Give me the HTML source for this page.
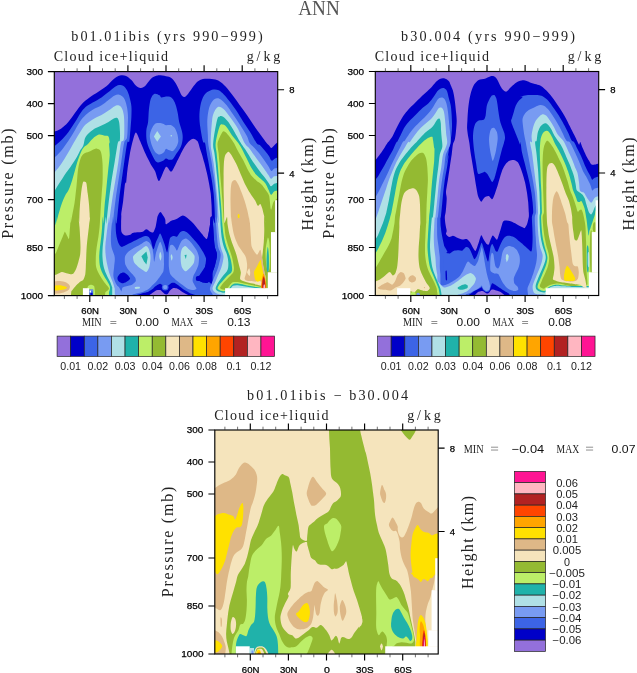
<!DOCTYPE html>
<html><head><meta charset="utf-8"><title>ANN</title>
<style>
html,body{margin:0;padding:0;background:#fff;}
body{width:637px;height:673px;overflow:hidden;}
svg{display:block;will-change:transform}
text{font-family:"Liberation Sans",sans-serif;fill:#000}
.sf{font-family:"Liberation Serif",serif;fill:#222}
.tk{font-size:9.6px;fill:#000;stroke:#000;stroke-width:0.25px}
.cb{font-size:10.8px;fill:#222}
.nm{font-size:11.6px;fill:#111}
</style></head><body>
<svg width="637" height="673" viewBox="0 0 637 673">
<rect width="637" height="673" fill="#fff"/>
<text class="sf" x="319" y="15" font-size="21" text-anchor="middle" textLength="41.5" lengthAdjust="spacingAndGlyphs" style="fill:#555">ANN</text>
<clipPath id="c1"><rect x="54.3" y="71.6" width="223.4" height="224.0"/></clipPath>
<g clip-path="url(#c1)">
<rect x="54.3" y="71.6" width="223.4" height="224.0" fill="#9370DB"/>
<path fill="#0000C8" d="M52.2,132.5L54.0,131.7C55.2,131.2 58.7,130.2 61.0,128.7C63.4,127.1 65.7,125.0 68.1,122.3C70.4,119.7 72.8,116.0 75.1,112.8C77.4,109.7 79.8,106.2 82.1,103.7C84.5,101.2 86.5,99.7 89.2,97.7C91.8,95.8 95.0,94.0 98.0,92.1C100.9,90.2 104.1,88.3 106.7,86.1C109.4,84.0 111.6,80.8 113.8,79.1C116.0,77.3 117.9,76.1 119.9,75.6C122.0,75.0 124.2,75.2 126.1,75.9C128.0,76.7 129.8,78.6 131.4,80.1C133.0,81.7 134.2,84.1 135.8,85.4C137.3,86.7 139.0,87.7 140.5,87.9C142.0,88.1 143.1,87.6 144.5,86.5C146.0,85.4 147.6,82.7 148.9,81.2C150.3,79.7 151.3,78.3 152.8,77.3C154.3,76.4 155.5,75.6 157.7,75.4C159.9,75.2 163.7,75.8 166.0,76.3C168.3,76.7 169.7,76.9 171.3,78.0C172.9,79.2 174.4,81.3 175.7,83.3C177.0,85.4 178.2,88.3 179.2,90.3C180.2,92.4 180.9,94.5 181.8,95.6C182.7,96.7 183.4,97.3 184.5,97.0C185.5,96.7 186.7,95.4 188.0,93.9C189.3,92.3 190.8,89.8 192.4,87.7C194.0,85.7 195.9,83.0 197.6,81.5C199.4,80.1 200.6,79.4 202.9,78.9C205.3,78.5 209.1,78.6 211.7,78.9C214.4,79.2 216.4,79.4 218.7,80.7C221.1,82.0 223.4,84.3 225.8,86.8C228.1,89.3 230.5,92.5 232.8,95.6C235.2,98.7 237.5,102.1 239.8,105.3C242.2,108.5 244.5,111.6 246.9,115.0C249.2,118.3 251.6,122.1 253.9,125.5C256.3,128.9 258.8,132.3 260.9,135.2C263.1,138.1 265.2,141.3 266.6,143.0C267.9,144.7 268.3,144.7 269.1,145.5C269.9,146.3 270.5,148.0 271.3,148.0C272.2,148.0 273.2,146.3 274.1,145.5C275.0,144.7 276.2,143.4 276.6,143.0L282.9,139.2L282.7,300.6L49.3,300.6L52.2,132.5Z"/>
<path fill="#9370DB" d="M126.1,183.0C126.4,181.2 127.0,173.1 127.5,169.5C128.0,165.8 129.0,158.9 129.6,155.4C130.2,151.9 131.4,146.1 132.2,143.1C133.1,140.0 134.7,132.8 135.8,132.5C136.8,132.3 138.9,138.5 140.2,141.3C141.4,144.1 144.0,150.6 145.4,153.6C146.8,156.7 149.4,161.8 150.7,164.2C152.0,166.5 154.0,169.0 155.1,171.2C156.2,173.4 157.7,181.5 159.1,180.9C160.6,180.3 164.4,168.1 166.0,166.8C167.6,165.6 169.9,172.2 171.3,171.6C172.7,171.0 174.9,165.5 176.5,162.4C178.2,159.3 181.9,151.2 183.6,148.4C185.2,145.5 187.6,142.6 188.9,141.3C190.1,140.0 192.1,138.7 193.3,138.7C194.4,138.7 196.7,140.0 197.6,141.3C198.5,142.7 199.4,146.9 200.0,148.7C200.6,150.4 201.3,152.4 201.9,154.3C202.5,156.2 203.7,160.6 204.4,163.1C205.1,165.6 206.3,170.5 206.9,173.1C207.5,175.8 208.5,180.5 209.0,183.2C209.5,185.9 210.3,190.2 210.7,193.2C211.0,196.2 211.4,202.4 211.6,205.8C211.7,209.1 212.0,216.9 211.9,218.4C211.8,219.8 210.9,216.2 210.7,217.0C210.4,217.8 210.3,222.5 210.0,224.5C209.8,226.5 209.2,230.1 208.8,232.1C208.4,234.0 207.5,238.3 206.9,239.0C206.3,239.6 205.0,237.8 204.4,237.1C203.7,236.4 202.9,235.1 202.0,234.0C201.1,232.9 198.9,230.2 197.6,228.7C196.4,227.2 193.8,224.0 192.4,222.6C191.0,221.1 188.4,218.8 187.1,217.8C185.8,216.9 184.1,215.4 182.7,215.5C181.3,215.7 178.1,218.3 176.5,219.0C175.0,219.7 172.7,220.1 171.3,220.8C169.9,221.5 166.8,224.5 166.0,224.3C165.2,224.2 165.6,220.8 165.3,219.8C165.0,218.7 164.4,217.7 163.8,216.6C163.1,215.6 161.2,212.1 160.4,212.0C159.6,211.9 158.2,214.8 157.7,216.0C157.2,217.2 157.0,219.5 156.7,221.0C156.4,222.5 155.9,225.8 155.5,227.3C155.0,228.8 154.0,231.7 153.3,232.3C152.6,232.9 151.1,232.1 150.2,231.7C149.3,231.3 147.4,229.2 146.4,229.2C145.4,229.2 143.9,231.3 142.7,231.7C141.4,232.1 138.3,232.2 137.0,232.3C135.7,232.5 133.5,232.6 132.6,233.0C131.7,233.3 131.1,234.5 130.1,234.8C129.1,235.2 126.2,235.8 125.1,235.5C123.9,235.1 122.1,233.9 121.6,232.3C121.0,230.7 121.1,225.7 121.1,223.5C121.0,221.4 121.3,217.4 121.3,216.0C121.3,214.6 121.1,215.4 121.3,213.3C121.6,211.3 122.7,204.6 123.2,200.5C123.7,196.5 124.7,185.3 125.1,182.9C125.5,180.6 125.8,184.8 126.1,183.0Z"/>
<path fill="#3C64E6" d="M52.2,147.5L54.0,146.6C55.2,145.6 58.7,142.8 61.0,140.5C63.4,138.1 65.7,135.6 68.1,132.5C70.4,129.5 73.0,125.2 75.1,122.0C77.2,118.8 78.6,115.7 80.4,113.2C82.1,110.7 83.6,108.8 85.6,107.0C87.7,105.3 90.0,104.3 92.7,102.6C95.3,101.0 98.8,99.1 101.5,97.4C104.1,95.6 106.5,93.7 108.5,92.1C110.6,90.5 112.0,88.9 113.8,87.7C115.5,86.5 117.4,85.4 119.1,85.1C120.7,84.8 122.1,85.1 123.5,85.9C124.8,86.8 125.9,88.4 127.0,90.3C128.0,92.2 128.9,94.7 129.6,97.4C130.3,100.0 131.1,102.9 131.4,106.2C131.7,109.4 131.5,112.9 131.4,116.7C131.2,120.5 130.8,124.9 130.5,129.0C130.1,133.1 129.8,139.0 129.3,141.3C128.7,143.7 128.1,139.6 127.2,143.0C126.4,146.4 125.3,155.6 124.3,161.8C123.4,168.1 122.5,174.4 121.6,180.7C120.7,187.0 119.9,192.5 119.1,199.5C118.2,206.6 117.2,220.1 116.6,223.0C115.9,225.9 115.6,216.3 115.3,217.0C115.1,217.7 115.1,223.7 115.1,227.0C115.1,230.4 114.8,234.4 115.3,237.1C115.8,239.8 117.0,240.4 117.8,243.4C118.7,246.3 119.9,252.8 120.3,254.7L120.3,312.4L48.7,312.4L52.2,147.5Z"/>
<path fill="#3C64E6" d="M214.8,223.0C215.1,221.1 214.7,210.8 214.4,205.8C214.2,200.8 214.0,197.4 213.6,193.2C213.1,189.0 212.5,184.4 211.9,180.7C211.3,176.9 210.7,174.0 210.0,170.6C209.4,167.3 208.8,163.9 208.2,160.6C207.5,157.2 206.8,153.5 206.3,150.5C205.8,147.6 205.6,144.5 205.0,143.0C204.5,141.5 203.7,144.0 202.9,141.3C202.1,138.7 200.9,131.4 200.3,127.3C199.7,123.2 199.4,120.2 199.4,116.7C199.4,113.2 199.7,109.4 200.3,106.2C200.9,102.9 201.8,99.7 202.9,97.4C204.1,95.0 205.6,93.4 207.3,92.1C209.1,90.8 211.6,89.8 213.5,89.5C215.4,89.2 217.0,89.5 218.7,90.3C220.5,91.2 222.3,93.0 224.0,94.7C225.8,96.5 227.2,98.3 229.3,100.9C231.3,103.5 234.0,107.0 236.3,110.6C238.7,114.1 241.0,118.3 243.4,122.0C245.7,125.7 248.2,129.0 250.4,132.5C252.6,136.0 254.9,140.8 256.5,143.0C258.2,145.2 258.8,144.2 260.3,145.5C261.7,146.9 263.8,149.4 265.3,151.2C266.8,152.9 268.0,154.6 269.1,156.2C270.1,157.8 270.6,160.2 271.6,160.6C272.5,161.0 273.7,159.2 274.7,158.7C275.7,158.2 277.1,158.0 277.6,157.8L282.9,157.4L282.9,312.4L212.6,312.4L212.6,272.3C213.0,271.0 214.3,267.7 215.1,264.7C215.8,261.8 217.0,257.6 217.0,254.7C216.9,251.7 215.3,250.1 214.8,247.1C214.3,244.2 214.1,240.4 213.8,237.1C213.5,233.7 213.4,230.4 213.2,227.0C213.0,223.7 212.3,217.7 212.6,217.0C212.8,216.3 214.5,224.9 214.8,223.0Z"/>
<path fill="#3C64E6" d="M116.0,216.0C116.0,217.3 115.6,223.5 115.7,226.0C115.7,228.6 115.9,232.7 116.3,234.8C116.6,237.0 117.5,240.8 118.2,242.4C118.8,244.0 120.4,246.4 121.3,246.8C122.2,247.2 123.9,246.0 125.1,245.5C126.2,245.0 128.8,243.7 130.1,243.0C131.4,242.3 133.8,241.2 135.1,240.5C136.5,239.8 138.8,238.6 140.1,238.0C141.5,237.4 144.1,236.3 145.2,236.1C146.3,235.9 147.6,236.1 148.3,236.7C149.1,237.3 150.1,238.8 150.8,240.5C151.5,242.2 152.7,249.0 153.3,249.3C154.0,249.5 155.2,244.0 155.8,242.4C156.5,240.7 157.8,237.9 158.4,236.7C158.9,235.5 159.7,233.5 160.2,233.6C160.7,233.7 161.5,235.9 162.1,237.4C162.7,238.8 164.0,242.2 164.6,244.3C165.3,246.3 166.6,252.5 167.1,252.4C167.7,252.3 168.4,245.6 168.8,243.6C169.2,241.7 169.5,239.0 170.1,238.0C170.7,237.0 172.3,236.3 173.2,236.1C174.2,235.9 176.1,237.2 177.0,236.7C177.9,236.2 179.2,233.1 180.1,232.3C181.1,231.6 182.9,231.0 183.9,231.1C184.9,231.2 186.7,232.2 187.7,233.0C188.7,233.7 190.4,235.6 191.4,236.7C192.4,237.8 194.0,239.7 195.2,241.1C196.4,242.5 199.1,245.7 200.2,247.4C201.4,249.1 203.2,252.0 204.0,253.7C204.8,255.4 206.3,258.3 206.5,260.0C206.7,261.6 205.8,264.7 205.3,266.2C204.7,267.7 203.0,269.9 202.1,271.3C201.3,272.6 199.5,275.1 199.0,276.3C198.5,277.5 197.8,279.2 198.4,280.1C198.9,280.9 201.3,282.3 202.7,282.6C204.2,282.8 207.7,281.4 209.0,281.9C210.4,282.4 212.3,285.7 212.8,286.3L215.3,311.4L59.8,311.4L116.0,216.0Z"/>
<path fill="#3C64E6" d="M166.0,96.5C165.2,96.6 162.3,97.6 161.3,97.4C160.2,97.2 160.7,95.8 159.5,95.3C158.3,94.7 155.7,93.2 154.2,93.9C152.8,94.5 151.6,96.5 150.7,99.1C149.8,101.8 149.4,105.9 148.9,109.7C148.5,113.5 148.5,118.5 148.1,122.0C147.6,125.5 146.5,127.6 146.3,130.8C146.1,134.0 146.2,138.1 146.8,141.3C147.4,144.6 148.6,147.2 149.8,150.1C151.1,153.1 152.9,156.9 154.2,158.9C155.5,161.0 156.3,162.1 157.7,162.4C159.2,162.7 161.6,161.3 163.0,160.7C164.4,160.0 164.9,158.5 166.0,158.4C167.1,158.2 168.3,159.7 169.5,159.8C170.7,159.9 171.9,159.9 173.0,158.9C174.2,157.9 175.2,155.7 176.5,153.6C177.9,151.6 179.9,149.2 180.9,146.6C182.0,144.0 182.6,140.5 182.7,137.8C182.8,135.2 182.4,133.4 181.8,130.8C181.2,128.1 179.9,125.2 179.2,122.0C178.5,118.8 178.2,114.7 177.4,111.4C176.7,108.2 175.8,105.0 174.8,102.6C173.8,100.3 172.7,98.4 171.3,97.4C169.8,96.3 166.9,96.6 166.0,96.5C165.1,96.3 166.8,96.3 166.0,96.5Z"/>
<path fill="#0000C8" d="M206.3,257.2C206.1,259.5 205.6,265.1 205.0,267.2C204.4,269.4 202.6,272.4 201.9,273.5C201.2,274.6 200.8,275.0 200.0,275.4C199.2,275.8 196.7,276.0 196.2,276.7C195.7,277.3 195.7,279.8 196.2,280.4C196.7,281.0 199.2,280.8 200.0,281.1C200.8,281.3 201.5,282.1 202.5,282.3C203.5,282.6 206.5,283.3 207.5,282.9C208.5,282.6 209.4,281.2 210.0,279.8C210.7,278.4 211.9,274.3 212.6,272.3C213.2,270.2 214.5,267.1 215.1,264.7C215.7,262.4 217.0,257.0 217.0,254.7C216.9,252.3 215.2,249.5 214.8,247.1C214.4,244.8 214.0,239.8 213.8,237.1C213.6,234.4 213.4,229.7 213.2,227.0C213.0,224.4 212.9,218.3 212.6,217.0C212.2,215.7 211.0,216.0 210.7,217.0C210.3,218.0 210.3,222.5 210.0,224.5C209.8,226.5 209.1,229.7 208.8,232.1C208.5,234.4 207.9,239.8 207.5,242.1C207.2,244.5 206.4,247.6 206.3,249.7C206.1,251.7 206.4,254.8 206.3,257.2Z"/>
<path fill="#0000C8" d="M117.5,277.5C117.8,276.6 119.2,274.4 120.0,273.8C120.9,273.1 122.8,272.3 123.8,272.5C124.8,272.7 126.7,274.2 127.6,275.0C128.4,275.9 130.3,277.9 130.1,278.8C129.9,279.7 127.4,281.3 126.3,281.9C125.2,282.5 123.0,283.4 121.9,283.2C120.8,283.0 118.7,281.4 118.2,280.7C117.6,279.9 117.3,278.5 117.5,277.5Z"/>
<path fill="#0000C8" d="M133.8,297.1C126.7,296.9 135.0,295.9 135.7,295.6C136.3,295.2 138.4,294.6 139.4,294.3C140.4,293.9 143.0,293.2 144.1,292.8C145.2,292.5 147.8,291.9 148.8,291.4C149.8,291.0 151.8,289.7 152.6,289.1C153.4,288.5 154.8,286.8 155.4,286.3C156.1,285.7 157.7,284.7 158.3,284.4C158.8,284.1 159.9,283.7 160.3,283.7C160.8,283.8 161.4,284.5 162.0,284.8C162.6,285.1 164.6,286.2 165.3,286.3C166.1,286.3 167.9,285.7 168.6,285.3C169.3,284.9 170.8,283.3 171.4,283.0C172.1,282.7 173.6,282.6 174.3,282.8C174.9,282.9 176.3,283.9 177.1,284.4C177.9,284.9 180.0,286.5 180.9,287.2C181.7,287.9 183.6,289.3 184.6,290.0C185.7,290.7 188.7,292.5 190.0,293.3C191.3,294.1 202.5,296.6 195.9,297.1C189.4,297.5 140.8,297.3 133.8,297.1Z"/>
<path fill="#9370DB" d="M147.9,297.1C143.1,296.9 148.3,296.1 148.8,295.6C149.4,295.1 151.7,293.5 152.6,292.8C153.5,292.2 155.5,290.6 156.4,290.3C157.3,290.0 159.4,289.8 160.1,290.0C160.9,290.2 161.9,291.4 162.5,291.9C163.1,292.4 164.7,294.0 165.3,294.3C165.9,294.5 167.2,294.5 167.7,294.1C168.2,293.7 168.9,291.7 169.6,291.0C170.2,290.3 172.4,288.4 173.3,288.1C174.2,287.9 176.2,288.3 177.1,288.6C178.0,288.9 180.0,290.4 180.9,291.0C181.7,291.5 183.8,292.8 184.6,293.3C185.5,293.8 187.7,294.8 188.4,295.2C189.1,295.6 195.0,296.9 190.3,297.1C185.6,297.3 152.7,297.3 147.9,297.1Z"/>
<circle cx="165.2" cy="287.3" r="3.3" fill="#3C64E6"/>
<circle cx="165.2" cy="287.1" r="2.2" fill="#789BF2"/>
<path fill="#789BF2" d="M52.2,158.9L54.0,158.0C55.2,156.9 58.7,153.8 61.0,151.0C63.4,148.2 65.7,144.8 68.1,141.3C70.4,137.8 73.0,133.3 75.1,129.9C77.2,126.5 78.6,123.6 80.4,121.1C82.1,118.6 83.6,116.9 85.6,115.0C87.7,113.1 90.0,111.3 92.7,109.7C95.3,108.1 98.8,106.9 101.5,105.3C104.1,103.7 106.3,101.6 108.5,100.0C110.7,98.4 112.9,96.5 114.7,95.6C116.4,94.7 117.6,94.4 119.1,94.7C120.5,95.0 122.3,95.9 123.5,97.4C124.6,98.8 125.4,100.9 126.1,103.5C126.8,106.2 127.6,109.8 127.8,113.2C128.1,116.6 128.0,119.6 127.8,123.7C127.7,127.8 127.6,134.6 127.0,137.8C126.3,141.0 125.0,139.0 124.1,143.0C123.2,147.0 122.3,155.6 121.3,161.8C120.4,168.1 119.4,174.4 118.4,180.7C117.5,187.0 116.5,192.5 115.6,199.5C114.6,206.6 113.3,220.1 112.8,223.0C112.3,225.9 113.0,216.3 112.8,217.0C112.6,217.7 111.9,223.7 111.5,227.0C111.2,230.4 110.9,233.7 110.9,237.1C110.9,240.4 110.9,243.8 111.5,247.1C112.2,250.5 114.3,253.8 114.7,257.2C115.1,260.5 114.3,264.1 114.1,267.2C113.8,270.4 113.2,273.5 113.4,276.0C113.6,278.5 114.5,280.4 115.3,282.3C116.1,284.2 117.5,285.9 118.4,287.3C119.4,288.8 120.5,290.5 121.0,291.1L121.6,312.4L48.7,312.4L52.2,158.9Z"/>
<path fill="#789BF2" d="M217.0,223.0C217.1,221.1 216.8,210.8 216.6,205.8C216.4,200.8 216.1,197.4 215.7,193.2C215.3,189.0 214.9,184.4 214.4,180.7C214.0,176.9 213.3,174.0 212.8,170.6C212.3,167.3 211.9,163.9 211.3,160.6C210.7,157.2 209.9,153.5 209.4,150.5C208.9,147.6 208.4,145.7 208.2,143.0C207.9,140.3 208.0,138.1 207.8,134.3C207.7,130.5 207.1,124.6 207.3,120.2C207.5,115.8 208.2,111.1 209.1,107.9C210.0,104.7 211.3,102.5 212.6,100.9C213.9,99.3 215.5,98.4 217.0,98.3C218.5,98.1 219.8,98.8 221.4,100.0C223.0,101.2 224.8,102.9 226.7,105.3C228.6,107.6 230.6,110.9 232.8,114.1C235.0,117.3 237.5,121.0 239.8,124.6C242.2,128.3 245.3,133.0 246.9,136.1C248.5,139.1 248.4,141.1 249.6,143.0C250.8,144.9 252.4,145.7 254.0,147.4C255.6,149.1 257.4,151.0 259.0,153.0C260.7,155.1 262.5,157.8 264.1,160.0C265.6,162.2 267.2,164.4 268.4,166.2C269.7,168.1 270.4,170.5 271.3,170.9C272.3,171.3 273.1,169.2 274.1,168.7C275.1,168.3 277.0,168.2 277.6,168.1L282.9,167.9L282.9,312.4L213.8,312.4L212.6,294.2C212.1,293.5 210.4,291.2 210.0,289.8C209.7,288.5 210.2,287.7 210.7,286.1C211.2,284.4 212.2,282.1 213.2,279.8C214.1,277.5 215.4,274.8 216.3,272.3C217.3,269.7 218.1,267.7 218.8,264.7C219.6,261.8 220.8,257.6 220.7,254.7C220.6,251.7 218.8,250.1 218.2,247.1C217.6,244.2 217.3,240.4 217.0,237.1C216.6,233.7 216.5,230.4 216.3,227.0C216.1,223.7 215.6,217.7 215.7,217.0C215.8,216.3 216.8,224.9 217.0,223.0Z"/>
<path fill="#789BF2" d="M125.1,256.2C125.4,255.3 126.7,253.3 127.6,252.4C128.5,251.5 131.4,249.4 132.6,248.7C133.8,247.9 136.5,246.8 137.6,246.1C138.8,245.5 141.6,243.6 142.7,243.0C143.7,242.4 145.6,241.1 146.4,241.1C147.2,241.1 148.9,242.3 149.6,243.0C150.2,243.7 151.6,246.2 152.1,247.4C152.5,248.6 153.1,252.0 153.3,253.7C153.6,255.4 153.9,261.8 154.2,261.8C154.5,261.8 155.4,255.6 155.8,253.7C156.3,251.8 157.8,246.9 158.4,245.5C158.9,244.1 159.8,241.7 160.2,241.7C160.7,241.8 161.7,244.7 162.1,246.1C162.5,247.5 163.5,251.6 163.8,253.7C164.0,255.7 164.0,261.7 164.0,263.7C164.0,265.8 163.8,269.8 163.4,271.3C162.9,272.7 161.0,275.1 160.2,276.3C159.4,277.5 157.3,280.3 156.5,281.3C155.6,282.3 153.6,284.2 152.7,285.1C151.8,286.0 150.0,288.1 148.9,288.8C147.9,289.6 145.2,290.8 143.9,291.4C142.6,291.9 138.9,292.9 137.6,293.2C136.3,293.6 133.2,294.3 132.6,294.5L128.8,311.4L116.3,311.4L114.4,291.4C114.5,290.8 115.1,286.8 115.7,286.3C116.2,285.8 118.1,286.4 118.8,287.0C119.5,287.5 120.9,291.3 121.3,291.4C121.7,291.4 122.0,288.2 122.6,287.6C123.1,287.0 125.2,286.7 126.3,286.3C127.4,286.0 130.9,285.4 132.0,284.8C133.1,284.2 135.4,282.2 135.7,281.3C136.1,280.5 135.6,278.4 135.1,277.5C134.7,276.7 132.8,274.7 132.0,273.8C131.2,272.8 129.0,270.5 128.2,269.4C127.4,268.3 125.7,265.5 125.3,264.4C124.9,263.3 124.8,260.9 124.8,260.0C124.8,259.0 124.7,257.1 125.1,256.2Z"/>
<path fill="#789BF2" d="M168.8,257.4C168.9,255.4 168.9,252.8 169.1,251.2C169.3,249.6 169.6,246.4 170.1,245.5C170.6,244.7 171.9,244.6 172.6,244.9C173.3,245.1 174.5,246.6 175.1,247.4C175.7,248.2 176.4,250.9 177.0,250.5C177.6,250.2 178.8,246.2 179.5,244.9C180.2,243.5 181.2,241.3 182.0,240.5C182.9,239.7 184.8,238.5 185.8,238.6C186.8,238.7 188.6,240.2 189.6,241.1C190.6,242.0 192.3,244.2 193.3,245.5C194.3,246.9 196.3,249.6 197.1,251.2C197.8,252.8 198.8,255.6 199.0,257.4C199.1,259.3 198.8,263.1 198.4,265.0C197.9,266.8 196.5,269.8 195.8,271.3C195.2,272.8 193.7,274.9 193.3,276.3C192.9,277.6 192.4,280.0 192.7,281.3C193.0,282.6 194.7,285.3 195.2,286.3C195.7,287.3 196.7,288.3 196.5,288.8C196.2,289.3 194.5,290.1 193.3,290.1C192.2,290.1 189.1,289.5 187.7,288.8C186.3,288.2 184.0,286.1 182.7,285.1C181.3,284.1 178.9,282.3 177.6,281.3C176.4,280.3 174.2,278.5 173.2,277.5C172.2,276.5 170.7,275.3 170.1,273.8C169.5,272.3 169.0,268.4 168.8,266.2C168.7,264.1 168.8,259.5 168.8,257.4Z"/>
<path fill="#789BF2" d="M155.1,123.7C154.0,124.5 152.3,127.4 151.6,129.0C150.9,130.7 149.8,133.9 149.8,136.1C149.8,138.2 150.9,142.7 151.6,144.8C152.3,147.0 154.0,150.6 155.1,151.9C156.2,153.2 158.3,154.5 159.5,154.5C160.7,154.6 163.0,153.0 163.9,152.2C164.8,151.5 165.4,149.0 166.0,148.7C166.6,148.4 167.7,149.8 168.6,150.1C169.6,150.4 172.0,151.5 173.0,151.0C174.1,150.5 175.8,147.9 176.5,146.6C177.3,145.3 178.2,143.0 178.3,141.3C178.4,139.7 177.9,136.1 177.4,134.3C177.0,132.5 175.6,129.4 174.8,128.1C174.0,126.9 172.4,125.6 171.3,125.2C170.1,124.8 167.1,125.3 166.0,125.2C164.9,125.0 163.9,124.0 163.0,123.7C162.1,123.5 160.5,123.0 159.5,123.0C158.4,123.0 156.2,123.0 155.1,123.7Z"/>
<path fill="#B0E0E6" d="M157.2,131.1L160.9,136.4L157.2,141.7L153.9,136.4Z"/>
<circle cx="171.3" cy="135.7" r="0.8" fill="#B0E0E6"/>
<path fill="#B0E0E6" d="M52.2,173.9L54.0,173.0C55.2,171.5 58.7,167.6 61.0,164.2C63.4,160.8 65.7,156.7 68.1,152.8C70.4,148.8 73.0,144.0 75.1,140.5C77.2,136.9 78.6,134.3 80.4,131.7C82.1,129.0 83.6,126.7 85.6,124.6C87.7,122.6 90.0,121.0 92.7,119.4C95.3,117.7 98.8,116.4 101.5,115.0C104.1,113.5 106.3,112.0 108.5,110.6C110.7,109.1 113.0,107.0 114.7,106.2C116.3,105.3 117.0,105.0 118.2,105.3C119.3,105.6 120.8,106.3 121.7,107.9C122.6,109.5 123.4,112.0 123.8,115.0C124.2,117.9 124.3,121.4 124.3,125.5C124.3,129.6 124.4,136.7 123.8,139.6C123.2,142.5 121.9,139.3 121.0,143.0C120.1,146.7 119.4,155.6 118.4,161.8C117.5,168.1 116.4,174.4 115.3,180.7C114.3,187.0 113.2,192.5 112.2,199.5C111.1,206.6 109.5,220.1 109.0,223.0C108.5,225.9 109.3,216.3 109.0,217.0C108.8,217.7 108.0,223.7 107.5,227.0C107.1,230.4 106.6,233.7 106.3,237.1C105.9,240.4 105.3,243.8 105.3,247.1C105.2,250.5 105.5,253.8 105.9,257.2C106.3,260.5 107.0,264.1 107.8,267.2C108.5,270.4 109.4,273.5 110.3,276.0C111.1,278.5 112.1,280.2 112.8,282.3C113.5,284.4 114.4,287.5 114.7,288.6L115.3,312.4L48.7,312.4L52.2,173.9Z"/>
<path fill="#B0E0E6" d="M218.8,223.0C219.0,222.4 218.5,217.0 218.3,213.3C218.1,209.6 217.9,205.0 217.6,200.8C217.2,196.6 216.7,192.4 216.3,188.2C215.9,184.0 215.5,179.8 215.1,175.7C214.6,171.5 214.1,166.9 213.6,163.1C213.0,159.3 212.4,156.4 211.9,153.0C211.4,149.7 210.7,148.5 210.7,143.0C210.7,137.5 211.5,125.5 212.1,120.2C212.7,115.0 213.4,113.6 214.4,111.4C215.3,109.2 216.7,107.7 217.9,107.0C219.0,106.4 220.1,106.8 221.4,107.6C222.7,108.3 224.2,109.6 225.8,111.4C227.4,113.3 229.0,115.5 231.1,118.5C233.1,121.4 235.8,124.9 238.1,129.0C240.3,133.1 242.8,139.8 244.6,143.0C246.4,146.2 247.4,146.0 249.0,148.0C250.5,150.0 252.3,152.6 254.0,154.9C255.7,157.2 257.4,159.5 259.0,161.8C260.7,164.1 262.5,166.5 264.1,168.7C265.6,170.9 267.3,173.4 268.4,175.0C269.6,176.7 270.0,178.6 271.0,178.8C271.9,179.0 273.0,176.8 274.1,176.3C275.2,175.8 277.0,176.0 277.6,175.9L282.9,175.7L282.9,297.4L225.1,295.1C224.1,295.0 220.5,294.7 218.8,294.2C217.2,293.8 216.1,293.2 215.1,292.4C214.0,291.5 212.9,290.3 212.6,289.2C212.2,288.2 212.7,287.4 213.2,286.1C213.7,284.7 214.8,283.1 215.7,281.1C216.6,279.0 217.9,275.8 218.8,273.5C219.8,271.2 220.6,269.5 221.4,267.2C222.1,264.9 222.9,261.8 223.2,259.7C223.5,257.6 223.7,256.8 223.2,254.7C222.8,252.6 221.4,250.1 220.7,247.1C220.0,244.2 219.5,240.4 219.1,237.1C218.7,233.7 218.5,230.4 218.2,227.0C218.0,223.7 217.5,217.7 217.6,217.0C217.7,216.3 218.7,223.6 218.8,223.0Z"/>
<path fill="#B0E0E6" d="M133.2,256.2C133.7,255.4 135.3,254.0 136.4,253.0C137.5,252.1 140.1,250.2 141.4,249.3C142.7,248.4 144.9,246.3 145.8,246.1C146.7,246.0 147.7,247.0 148.3,248.0C148.9,249.0 149.9,252.1 150.2,253.7C150.5,255.3 150.6,258.1 150.4,260.0C150.3,261.8 149.7,265.9 149.2,267.5C148.6,269.1 147.3,271.6 146.4,271.9C145.5,272.2 143.8,270.8 142.7,270.0C141.5,269.2 138.7,267.2 137.6,266.2C136.5,265.3 135.1,264.0 134.5,263.1C133.9,262.2 133.4,260.2 133.2,259.3C133.1,258.4 132.8,257.0 133.2,256.2Z"/>
<path fill="#20B2AA" d="M141.4,256.2L146.4,251.4L147.7,257.4L146.4,264.4L143.9,261.2Z"/>
<path fill="#B0E0E6" d="M160.2,251.8C160.5,251.8 161.5,255.0 161.5,256.2C161.5,257.4 160.8,260.6 160.5,260.6C160.2,260.6 159.3,257.4 159.2,256.2C159.2,255.0 159.9,251.8 160.2,251.8Z"/>
<path fill="#B0E0E6" d="M180.8,253.7C180.9,252.0 181.4,249.7 182.0,248.7C182.6,247.6 184.3,246.1 185.2,246.1C186.0,246.1 187.4,247.8 188.3,248.7C189.2,249.5 191.2,251.4 192.1,252.4C192.9,253.4 194.3,254.8 194.6,256.2C194.8,257.5 194.4,261.1 194.0,262.5C193.5,263.8 192.3,265.2 191.4,266.2C190.6,267.2 188.5,269.3 187.7,270.0C186.8,270.7 185.9,271.6 185.2,271.3C184.4,270.9 182.6,268.8 182.0,267.5C181.4,266.2 180.9,263.1 180.8,261.2C180.6,259.4 180.6,255.4 180.8,253.7Z"/>
<path fill="#20B2AA" d="M184.5,254.9L186.7,254.7L185.8,259.3Z"/>
<path fill="#B0E0E6" d="M170.7,256.2C170.7,255.4 171.4,254.1 171.6,254.3C171.9,254.5 172.6,256.6 172.6,257.4C172.6,258.3 171.9,260.8 171.6,260.6C171.4,260.4 170.7,257.0 170.7,256.2Z"/>
<path fill="#B0E0E6" d="M135.1,287.1C135.6,286.9 139.1,286.7 139.5,286.8C140.0,287.0 140.0,288.4 139.5,288.6C139.1,288.8 135.6,289.0 135.1,288.8C134.7,288.7 134.7,287.3 135.1,287.1Z"/>
<path fill="#20B2AA" d="M48.7,195.7L54.3,191.4C54.7,190.6 56.0,188.4 56.9,187.0C57.8,185.6 58.5,184.4 59.4,182.9C60.4,181.5 61.4,179.9 62.6,178.2C63.7,176.4 65.1,174.3 66.3,172.5C67.6,170.7 68.8,169.3 70.1,167.5C71.4,165.7 72.7,163.6 73.9,161.8C75.0,160.1 76.0,158.7 77.0,156.8C78.0,154.9 79.1,152.4 80.1,150.5C81.2,148.7 82.4,147.8 83.3,145.5C84.2,143.2 84.1,139.5 85.6,136.9C87.2,134.3 90.0,131.8 92.7,129.9C95.3,128.0 98.8,126.8 101.5,125.5C104.1,124.2 106.5,123.2 108.5,122.0C110.6,120.8 112.3,119.1 113.8,118.5C115.2,117.8 116.4,117.5 117.3,118.1C118.2,118.7 118.6,119.9 119.1,122.0C119.5,124.1 119.8,127.7 119.9,130.8C120.1,133.9 120.1,138.4 119.8,140.5C119.4,142.5 118.7,139.4 117.8,143.0C117.0,146.6 115.7,155.6 114.7,161.8C113.6,168.1 112.5,174.4 111.5,180.7C110.6,187.0 109.9,192.5 109.0,199.5C108.1,206.6 106.8,220.1 106.3,223.0C105.7,225.9 106.2,216.3 105.9,217.0C105.6,217.7 105.0,223.7 104.6,227.0C104.3,230.4 104.1,233.7 103.8,237.1C103.4,240.4 103.0,243.8 102.7,247.1C102.5,250.5 102.3,253.8 102.5,257.2C102.7,260.5 103.0,264.1 103.8,267.2C104.5,270.4 106.1,273.5 107.1,276.0C108.2,278.5 109.4,280.4 110.3,282.3C111.1,284.2 111.9,286.5 112.2,287.3L112.2,312.4L48.7,312.4L48.7,195.7Z"/>
<path fill="#20B2AA" d="M220.5,223.0C220.5,222.4 220.3,217.0 220.1,213.3C219.9,209.6 219.4,205.0 219.1,200.8C218.8,196.6 218.6,192.4 218.2,188.2C217.9,184.0 217.4,179.8 217.0,175.7C216.5,171.5 216.1,166.9 215.7,163.1C215.3,159.3 214.9,156.4 214.4,153.0C214.0,149.7 212.8,148.5 213.2,143.0C213.6,137.5 215.9,124.7 217.0,120.2C218.1,115.8 218.6,116.9 219.6,116.4C220.7,115.8 221.8,115.9 223.1,116.7C224.5,117.5 225.9,119.1 227.5,121.1C229.2,123.2 230.6,125.4 232.8,129.0C235.0,132.7 238.7,139.6 240.8,143.0C242.9,146.4 243.6,146.9 245.2,149.3C246.8,151.7 248.6,154.8 250.2,157.4C251.9,160.1 253.6,162.6 255.3,165.0C256.9,167.4 258.6,169.7 260.3,171.9C262.0,174.1 263.9,176.3 265.3,178.2C266.7,180.0 267.9,181.8 268.8,183.2C269.8,184.5 270.1,186.2 271.0,186.3C271.8,186.4 273.0,184.4 274.1,183.8C275.2,183.3 277.0,183.1 277.6,182.9L282.9,182.7L282.9,292.4L256.5,288.1C255.5,287.9 252.3,287.5 250.2,287.2C248.1,286.9 246.0,286.5 244.0,286.2C241.9,285.9 239.5,285.3 237.7,285.2C235.8,285.1 234.2,285.2 232.9,285.8C231.6,286.5 231.4,288.1 230.1,289.2C228.8,290.3 226.5,291.8 225.1,292.4C223.8,292.9 223.2,292.6 222.0,292.4C220.7,292.1 218.6,291.7 217.6,291.1C216.5,290.5 215.8,289.6 215.7,288.6C215.6,287.5 216.2,286.3 217.0,284.8C217.7,283.4 218.9,281.5 220.1,279.8C221.2,278.1 222.6,276.4 223.9,274.8C225.1,273.1 226.9,271.8 227.6,269.7C228.4,267.7 228.4,264.7 228.3,262.2C228.2,259.7 227.7,257.2 227.0,254.7C226.3,252.2 224.8,250.1 223.9,247.1C223.0,244.2 222.1,240.4 221.6,237.1C221.1,233.7 221.0,230.4 220.7,227.0C220.5,223.7 220.1,217.7 220.1,217.0C220.1,216.3 220.5,223.6 220.5,223.0Z"/>
<path fill="#BCEE68" d="M48.7,230.8L54.3,227.7C54.5,226.9 55.2,225.1 55.7,223.3C56.1,221.5 56.8,217.0 56.9,217.0C57.0,217.0 56.0,223.6 56.3,223.0C56.6,222.4 57.8,216.6 58.8,213.3C59.7,210.0 60.9,206.2 61.9,203.3C63.0,200.4 63.9,198.0 65.1,195.7C66.2,193.4 67.7,192.0 68.8,189.5C70.0,187.0 71.0,183.6 72.0,180.7C72.9,177.7 73.7,174.8 74.5,171.9C75.3,169.0 76.1,166.0 77.0,163.1C77.9,160.2 79.1,156.8 80.1,154.3C81.2,151.8 82.0,149.7 83.3,148.0C84.5,146.3 86.1,145.8 87.7,144.3C89.2,142.7 90.8,140.3 92.7,138.7C94.5,137.1 96.8,135.1 98.8,134.6C100.9,134.2 103.4,135.4 105.0,135.7C106.6,136.0 107.7,135.0 108.5,136.4C109.3,137.8 109.8,142.9 109.9,144.0C110.0,145.1 109.1,141.1 109.0,143.0C109.0,144.9 109.8,151.4 109.7,155.6C109.5,159.7 108.8,163.9 108.4,168.1C108.0,172.3 107.6,176.5 107.1,180.7C106.7,184.9 106.3,189.0 105.9,193.2C105.5,197.4 105.0,200.8 104.6,205.8C104.2,210.8 103.7,221.1 103.4,223.0C103.1,224.9 103.0,216.3 102.7,217.0C102.5,217.7 102.4,223.7 102.1,227.0C101.9,230.4 101.6,233.7 101.2,237.1C100.9,240.4 100.3,243.8 100.0,247.1C99.6,250.5 99.2,253.8 99.2,257.2C99.3,260.5 99.4,264.1 100.2,267.2C101.0,270.4 102.7,273.5 104.0,276.0C105.3,278.5 106.8,280.4 107.8,282.3C108.8,284.2 109.8,285.7 110.0,287.3C110.2,289.0 109.2,291.5 109.0,292.4L108.4,312.4L48.7,312.4L48.7,230.8Z"/>
<path fill="#BCEE68" d="M222.1,223.0C222.0,222.4 221.8,217.0 221.6,213.3C221.4,209.6 221.1,205.0 220.7,200.8C220.4,196.6 219.9,192.4 219.6,188.2C219.2,184.0 218.9,179.8 218.6,175.7C218.3,171.5 217.9,166.9 217.6,163.1C217.2,159.3 216.9,156.4 216.6,153.0C216.3,149.7 215.2,147.4 215.7,143.0C216.2,138.6 218.4,129.4 219.6,126.4C220.9,123.3 222.0,124.5 223.1,124.6C224.3,124.8 225.2,125.5 226.7,127.3C228.1,129.0 230.0,132.6 231.9,135.2C233.9,137.8 236.6,140.6 238.3,143.0C240.0,145.4 240.7,146.8 242.1,149.3C243.4,151.8 244.9,154.9 246.5,158.1C248.0,161.2 249.8,165.3 251.5,168.1C253.2,170.9 254.8,173.1 256.5,175.0C258.2,176.9 260.1,178.1 261.5,179.4C263.0,180.8 264.2,181.5 265.3,183.2C266.5,184.9 267.5,187.5 268.4,189.5C269.4,191.4 270.0,194.4 271.0,194.7C271.9,195.1 273.0,192.0 274.1,191.4C275.2,190.7 277.0,190.8 277.6,190.7L282.9,190.5L282.9,291.1L261.5,288.0C260.7,287.8 258.4,287.4 256.5,287.1C254.6,286.8 252.3,286.5 250.2,286.1C248.1,285.7 246.0,285.2 244.0,284.8C241.9,284.4 239.4,283.7 237.7,283.6C236.0,283.4 235.0,283.5 233.9,283.8C232.9,284.1 232.2,284.7 231.4,285.4C230.6,286.2 229.9,287.6 228.9,288.6C227.8,289.5 226.6,290.8 225.1,291.1C223.7,291.4 221.4,290.9 220.1,290.5C218.8,290.1 217.8,289.4 217.6,288.6C217.4,287.7 218.0,286.7 218.8,285.4C219.7,284.2 221.2,282.6 222.6,281.1C224.0,279.5 225.5,277.5 227.0,276.0C228.5,274.6 230.6,273.7 231.4,272.3C232.2,270.8 232.2,269.7 232.0,267.2C231.8,264.7 231.1,260.5 230.1,257.2C229.2,253.8 227.4,250.5 226.4,247.1C225.3,243.8 224.5,240.4 223.9,237.1C223.2,233.7 222.9,230.4 222.6,227.0C222.3,223.7 222.1,217.7 222.0,217.0C221.9,216.3 222.2,223.6 222.1,223.0Z"/>
<path fill="#94BA32" d="M48.7,257.2L54.3,254.7C54.6,254.3 55.4,253.8 56.3,252.2C57.1,250.5 58.4,247.1 59.4,244.6C60.5,242.1 61.8,239.0 62.6,237.1C63.3,235.2 63.7,234.2 64.1,233.3C64.4,232.4 64.5,231.8 64.8,231.8C65.1,231.8 65.4,232.5 65.8,233.3C66.3,234.2 67.1,235.9 67.6,236.8C68.1,237.8 68.5,239.1 68.8,239.0C69.1,238.8 69.2,237.4 69.3,235.8C69.5,234.3 69.7,231.7 69.8,229.6C70.0,227.5 70.2,225.4 70.3,223.3C70.5,221.2 70.7,217.0 70.7,217.0C70.8,217.0 70.4,223.6 70.7,223.0C71.0,222.4 72.0,216.6 72.6,213.3C73.2,210.0 74.0,206.6 74.5,203.3C75.0,199.9 75.3,197.0 75.7,193.2C76.2,189.5 76.6,184.9 77.0,180.7C77.4,176.5 77.6,171.9 78.3,168.1C78.9,164.4 79.8,160.5 80.8,158.1C81.7,155.7 82.5,154.7 83.9,153.7C85.3,152.6 87.3,152.5 88.9,151.8C90.6,151.1 92.6,149.8 94.0,149.3C95.3,148.8 96.0,148.4 97.1,148.7C98.1,148.9 99.5,149.4 100.2,150.5C101.0,151.7 101.4,153.5 101.7,155.6C102.1,157.7 102.3,160.2 102.5,163.1C102.7,166.0 102.7,169.8 102.7,173.1C102.7,176.5 102.7,179.8 102.5,183.2C102.3,186.5 102.0,189.5 101.7,193.2C101.5,197.0 101.2,200.8 100.9,205.8C100.6,210.8 100.1,221.1 100.0,223.0C99.9,224.9 100.3,216.3 100.2,217.0C100.2,217.7 99.9,223.7 99.6,227.0C99.3,230.4 98.8,233.7 98.4,237.1C97.9,240.4 97.1,243.8 96.7,247.1C96.3,250.5 95.9,253.8 95.8,257.2C95.8,260.5 95.5,264.1 96.2,267.2C96.9,270.4 98.7,273.3 100.2,276.0C101.7,278.7 103.8,281.5 105.3,283.6C106.7,285.7 109.0,287.1 109.0,288.6C109.0,290.1 105.9,291.7 105.3,292.4L102.7,312.4L48.7,312.4L48.7,257.2Z"/>
<path fill="#94BA32" d="M223.9,223.0C223.8,222.5 223.4,216.3 223.2,213.3C223.0,210.4 222.6,204.1 222.4,200.8C222.1,197.4 221.6,191.6 221.4,188.2C221.1,184.9 220.6,179.0 220.3,175.7C220.1,172.3 219.7,166.1 219.5,163.1C219.2,160.1 218.8,155.7 218.6,153.0C218.3,150.4 217.1,145.8 217.6,143.0C218.1,140.2 221.3,133.7 222.3,132.2C223.2,130.7 224.1,131.3 224.9,131.7C225.7,132.1 227.2,133.7 228.4,135.2C229.6,136.7 232.7,141.0 233.9,143.0C235.1,145.0 236.5,148.4 237.7,150.5C238.8,152.7 241.4,156.8 242.7,159.3C244.0,161.8 246.6,167.2 247.7,169.4C248.9,171.6 250.3,174.1 251.5,175.7C252.7,177.2 255.2,179.5 256.5,180.7C257.9,181.8 260.4,183.3 261.5,184.4C262.7,185.6 264.3,188.0 265.3,189.5C266.3,191.0 268.3,193.1 269.1,195.7C269.8,198.4 270.4,208.7 271.0,209.6C271.5,210.4 272.6,203.5 273.5,202.0C274.4,200.5 277.1,198.8 277.6,198.3L282.9,197.8L282.9,289.8L261.5,287.3C260.9,287.2 258.0,286.4 256.5,286.1C255.0,285.7 251.9,285.2 250.2,284.8C248.6,284.5 245.6,283.9 244.0,283.6C242.3,283.2 239.2,282.2 237.7,282.1C236.2,281.9 233.7,281.9 232.7,282.3C231.6,282.8 230.4,284.5 229.5,285.4C228.7,286.4 227.3,288.7 226.4,289.2C225.5,289.8 223.4,289.8 222.6,289.6C221.8,289.4 220.3,288.5 220.1,288.0C219.9,287.4 220.7,286.4 221.4,285.4C222.0,284.5 223.9,282.3 225.1,281.1C226.3,279.8 229.1,277.2 230.1,276.0C231.2,274.9 232.8,273.4 233.3,272.3C233.8,271.1 234.1,269.2 233.9,267.2C233.7,265.2 232.7,259.9 232.0,257.2C231.3,254.5 229.5,249.8 228.6,247.1C227.8,244.5 226.3,239.8 225.7,237.1C225.2,234.4 224.7,229.7 224.5,227.0C224.2,224.4 223.9,217.5 223.9,217.0C223.8,216.5 223.9,223.5 223.9,223.0Z"/>
<path fill="#BCEE68" d="M265.9,247.1C266.2,244.9 267.4,238.4 267.8,237.7C268.3,237.1 269.0,239.9 269.3,242.1C269.6,244.4 270.0,251.3 270.1,254.7C270.1,258.0 269.9,265.1 269.7,267.2C269.5,269.4 268.9,271.0 268.4,271.0C268.0,271.0 266.9,269.4 266.6,267.2C266.2,265.1 265.6,257.4 265.6,254.7C265.5,252.0 265.6,249.4 265.9,247.1Z"/>
<path fill="#20B2AA" d="M266.8,254.7C267.0,252.3 267.5,247.1 267.8,247.1C268.1,247.1 268.7,251.7 268.8,254.7C269.0,257.7 269.0,267.5 268.8,269.7C268.6,272.0 267.5,272.3 267.2,271.6C266.9,271.0 266.6,267.0 266.6,264.7C266.5,262.5 266.6,257.0 266.8,254.7Z"/>
<path fill="#F5E4BC" d="M79.1,223.0C79.3,222.5 79.4,216.0 79.5,213.3C79.6,210.7 79.9,206.3 80.1,203.3C80.4,200.3 81.0,193.5 81.4,190.7C81.8,188.0 82.5,183.8 82.9,182.6C83.3,181.4 84.1,181.6 84.5,181.7C85.0,181.8 86.0,181.6 86.4,183.2C86.8,184.7 87.3,190.6 87.7,193.2C88.0,195.9 88.7,200.6 88.9,203.3C89.2,206.0 89.4,210.7 89.6,213.3C89.7,216.0 89.9,222.5 89.9,223.0C90.0,223.5 90.1,216.5 89.9,217.0C89.8,217.5 89.2,224.4 88.9,227.0C88.6,229.7 88.0,234.4 87.7,237.1C87.4,239.8 86.9,244.5 86.7,247.1C86.5,249.8 86.3,254.5 86.2,257.2C86.1,259.9 85.9,264.9 85.8,267.2C85.7,269.6 85.5,273.1 85.2,274.8C84.8,276.4 84.0,278.8 83.3,279.8C82.5,280.8 80.6,281.4 79.5,282.3C78.4,283.2 76.2,285.5 75.1,286.7C74.0,287.9 71.9,290.5 71.4,291.1L68.8,312.4L48.7,312.4L48.7,276.0L54.3,275.4C54.7,275.2 56.5,274.6 57.5,274.1C58.6,273.7 60.6,272.1 61.9,272.0C63.3,271.9 66.2,273.2 67.6,273.5C69.0,273.8 71.5,274.6 72.6,274.1C73.7,273.6 75.0,271.3 75.7,269.7C76.5,268.2 77.7,264.2 78.3,262.2C78.8,260.2 79.8,256.7 80.1,254.7C80.4,252.7 80.5,249.5 80.5,247.1C80.5,244.8 80.3,239.8 80.1,237.1C80.0,234.4 79.7,229.7 79.5,227.0C79.3,224.4 78.7,217.5 78.6,217.0C78.6,216.5 79.0,223.5 79.1,223.0Z"/>
<path fill="#DEB887" d="M48.7,281.3L54.3,281.3C55.0,281.3 58.4,280.9 60.0,281.1C61.7,281.2 65.0,281.9 66.3,282.6C67.6,283.2 69.5,285.1 69.8,286.1C70.2,287.0 69.6,289.0 68.8,289.8C68.0,290.7 65.3,291.9 63.8,292.4C62.3,292.9 58.8,293.4 57.5,293.6C56.3,293.8 54.7,293.8 54.3,293.9L48.7,293.9L48.7,281.3Z"/>
<path fill="#FFE100" d="M48.7,285.4L54.3,285.4C55.0,285.4 58.5,285.0 60.0,285.2C61.6,285.4 64.8,286.3 65.7,286.7C66.6,287.1 67.2,287.6 67.0,288.0C66.7,288.3 65.1,289.3 63.8,289.6C62.6,289.9 58.8,290.4 57.5,290.5C56.3,290.6 54.7,290.5 54.3,290.5L48.7,290.5L48.7,285.4Z"/>
<path fill="#F5E4BC" d="M224.5,223.0C224.1,222.5 224.2,216.3 224.1,213.3C224.0,210.4 223.9,204.1 223.9,200.8C223.8,197.4 223.6,191.6 223.6,188.2C223.6,184.9 223.6,179.0 223.6,175.7C223.6,172.3 223.7,165.8 223.9,163.1C224.1,160.4 224.5,157.1 225.1,155.6C225.7,154.1 227.4,151.9 228.3,151.8C229.1,151.7 230.6,153.8 231.4,154.9C232.2,156.1 233.7,159.0 234.5,160.6C235.4,162.2 236.8,164.9 237.7,166.9C238.6,168.9 240.4,173.3 241.4,175.7C242.4,178.0 244.0,182.1 245.2,184.4C246.4,186.8 248.9,191.1 250.2,193.2C251.6,195.4 254.3,199.1 255.3,200.8C256.3,202.4 257.1,205.4 257.8,205.8C258.4,206.2 259.7,203.6 260.3,203.9C260.9,204.2 261.7,206.7 262.2,208.3C262.7,209.9 263.6,213.9 264.1,215.8C264.5,217.8 265.3,222.8 265.3,223.0C265.3,223.2 264.2,216.1 264.1,217.0C263.9,217.9 264.3,226.2 264.3,229.6C264.3,232.9 264.0,239.1 263.8,242.1C263.6,245.1 263.0,250.0 262.8,252.2C262.6,254.3 262.1,256.4 262.2,258.4C262.3,260.5 263.1,265.2 263.4,267.2C263.8,269.2 264.4,272.2 264.7,273.5C265.0,274.9 265.5,275.6 265.6,277.3C265.6,279.0 266.0,285.0 265.3,286.1C264.6,287.2 262.0,285.8 260.3,285.4C258.6,285.1 254.8,284.1 252.7,283.6C250.7,283.1 246.9,282.3 245.2,281.7C243.5,281.1 240.8,280.4 240.2,279.2C239.6,277.9 241.0,274.2 240.8,272.3C240.6,270.3 239.5,267.1 238.9,264.7C238.3,262.4 237.3,257.4 236.4,254.7C235.6,252.0 233.6,247.3 232.7,244.6C231.7,242.0 230.2,237.3 229.5,234.6C228.8,231.9 228.0,226.9 227.6,224.5C227.3,222.2 227.4,217.2 227.0,217.0C226.6,216.8 224.9,223.5 224.5,223.0Z"/>
<path fill="#DEB887" d="M231.1,223.0C231.1,222.5 230.9,216.3 230.8,213.3C230.7,210.4 230.5,204.1 230.5,200.8C230.5,197.4 230.6,190.7 230.8,188.2C231.0,185.7 231.4,183.0 232.0,181.9C232.6,180.8 234.3,179.7 235.2,180.0C236.0,180.4 237.5,182.9 238.3,184.4C239.1,186.0 240.6,189.8 241.4,192.0C242.3,194.2 243.8,198.4 244.6,200.8C245.3,203.1 246.5,207.2 247.1,209.6C247.7,211.9 248.6,216.6 249.0,218.4C249.3,220.1 249.5,223.2 249.6,223.0C249.7,222.8 249.5,216.5 249.6,217.0C249.7,217.5 250.1,224.4 250.2,227.0C250.4,229.7 250.7,234.6 250.9,237.1C251.0,239.6 251.1,244.0 251.5,245.9C251.9,247.7 253.2,249.7 254.0,250.9C254.8,252.1 256.3,254.8 257.1,254.7C258.0,254.5 259.7,249.7 260.3,249.7C260.9,249.7 261.2,253.0 261.5,254.7C261.9,256.4 262.5,260.2 262.8,262.2C263.1,264.2 263.7,267.9 264.1,269.7C264.4,271.6 265.2,274.4 265.3,276.0C265.4,277.7 265.5,281.6 264.7,282.3C263.8,283.0 260.3,281.1 259.0,281.1C257.8,281.0 256.4,281.7 255.3,281.7C254.1,281.7 251.4,281.2 250.2,281.1C249.1,280.9 247.2,280.8 246.5,280.4C245.7,280.1 244.6,279.6 244.6,278.5C244.6,277.5 246.1,274.1 246.5,272.3C246.8,270.4 247.2,266.7 247.1,264.7C247.0,262.7 246.4,258.9 245.8,257.2C245.3,255.5 243.8,253.8 242.7,252.2C241.6,250.5 238.8,247.0 237.7,244.6C236.5,242.3 234.7,237.3 233.9,234.6C233.2,231.9 232.4,226.9 232.0,224.5C231.7,222.2 231.5,217.2 231.4,217.0C231.3,216.8 231.2,223.5 231.1,223.0Z"/>
<path fill="#FFE100" d="M254.0,272.3C254.1,270.8 255.9,268.4 256.5,267.2C257.1,266.1 258.5,263.1 259.0,262.2C259.5,261.3 260.6,259.4 260.9,259.7C261.2,260.0 261.3,263.4 261.5,264.7C261.8,266.0 262.6,269.7 262.8,271.0C263.0,272.3 263.6,275.0 263.4,276.0C263.3,277.1 262.2,279.1 261.5,279.8C260.9,280.5 258.5,281.7 257.8,281.7C257.0,281.7 255.7,280.9 255.3,279.8C254.8,278.7 253.9,273.7 254.0,272.3Z"/>
<path fill="#F5E4BC" d="M247.1,272.3C247.1,271.4 248.9,268.2 249.2,268.2C249.6,268.2 250.2,271.4 250.2,272.3C250.3,273.2 250.0,276.0 249.6,276.0C249.2,276.0 247.1,273.2 247.1,272.3Z"/>
<path fill="#FFA500" d="M261.3,288.0C260.8,287.0 261.5,281.5 261.8,279.8C262.0,278.1 263.0,273.7 263.4,273.5C263.8,273.4 265.0,276.9 265.3,278.5C265.6,280.2 266.8,286.9 266.3,288.0C265.8,289.1 261.8,288.9 261.3,288.0Z"/>
<path fill="#FF4500" d="M261.8,288.0C261.4,287.2 262.1,282.4 262.3,281.1C262.5,279.7 263.2,276.2 263.5,276.0C263.9,275.9 264.7,278.4 264.9,279.8C265.2,281.2 266.0,287.0 265.7,288.0C265.3,288.9 262.2,288.8 261.8,288.0Z"/>
<path fill="#B22222" d="M262.4,287.3C262.2,286.5 262.6,281.0 262.8,279.8C263.0,278.6 263.6,277.0 263.8,277.0C264.0,277.1 264.7,279.2 264.8,280.4C265.0,281.6 265.3,286.5 265.1,287.3C264.8,288.1 262.7,288.2 262.4,287.3Z"/>
<path fill="#FFB6C1" d="M263.4,288.0C263.3,287.6 263.6,285.2 263.8,284.8C264.0,284.5 264.7,284.5 264.8,284.8C265.0,285.2 265.2,287.6 265.1,288.0C264.9,288.3 263.6,288.3 263.4,288.0Z"/>
<ellipse cx="238.6" cy="216.1" rx="1.0" ry="2.2" fill="#FFE100"/>
<rect x="275.1" y="200.2" width="3.9" height="32.3" fill="#FFFFFF"/>
<rect x="271.0" y="232.1" width="8.0" height="40.4" fill="#FFFFFF"/>
<rect x="267.8" y="272.3" width="11.2" height="16.7" fill="#FFFFFF"/>
<rect x="225.1" y="288.2" width="53.9" height="8.8" fill="#FFFFFF"/>
<path fill="#BCEE68" d="M87.0,289.2C87.2,288.8 87.8,286.3 88.3,285.8C88.8,285.3 90.8,284.8 91.4,284.8C92.1,284.9 93.8,285.4 94.2,286.3C94.6,287.2 94.9,291.6 95.0,292.4L94.0,312.4L87.0,312.4L87.0,289.2Z"/>
<rect x="82.9" y="288.2" width="6.3" height="8.8" fill="#FFFFFF"/>
<rect x="89.2" y="289.5" width="4.0" height="7.5" fill="#3C64E6"/>
<rect x="89.6" y="290.5" width="1.4" height="2.0" fill="#FFFFFF"/>
<rect x="91.2" y="289.5" width="1.6" height="2.0" fill="#789BF2"/>
<rect x="90.5" y="293.0" width="2.0" height="2.0" fill="#0000C8"/>
</g>
<rect x="54.3" y="71.6" width="223.4" height="224.0" fill="none" stroke="#000" stroke-width="1.15"/>
<path d="M89.8,71.6v-6.4M89.8,295.6v6.4M127.9,71.6v-6.4M127.9,295.6v6.4M166.0,71.6v-6.4M166.0,295.6v6.4M204.1,71.6v-6.4M204.1,295.6v6.4M242.2,71.6v-6.4M242.2,295.6v6.4M54.3,71.6h-6.4M54.3,103.6h-6.4M54.3,135.6h-6.4M54.3,199.6h-6.4M54.3,247.6h-6.4M54.3,295.6h-6.4M277.7,89.7h6.4M277.7,173.1h6.4" stroke="#000" stroke-width="1.15" fill="none"/>
<path d="M64.4,71.6v-3.3M64.4,295.6v3.3M77.1,71.6v-3.3M77.1,295.6v3.3M102.5,71.6v-3.3M102.5,295.6v3.3M115.2,71.6v-3.3M115.2,295.6v3.3M140.6,71.6v-3.3M140.6,295.6v3.3M153.3,71.6v-3.3M153.3,295.6v3.3M178.7,71.6v-3.3M178.7,295.6v3.3M191.4,71.6v-3.3M191.4,295.6v3.3M216.8,71.6v-3.3M216.8,295.6v3.3M229.5,71.6v-3.3M229.5,295.6v3.3M254.9,71.6v-3.3M254.9,295.6v3.3M267.6,71.6v-3.3M267.6,295.6v3.3" stroke="#333" stroke-width="0.7" fill="none"/>
<text class="tk" x="26.4" y="75.0" textLength="16.6" lengthAdjust="spacingAndGlyphs">300</text>
<text class="tk" x="26.4" y="107.0" textLength="16.6" lengthAdjust="spacingAndGlyphs">400</text>
<text class="tk" x="26.4" y="139.0" textLength="16.6" lengthAdjust="spacingAndGlyphs">500</text>
<text class="tk" x="26.4" y="203.0" textLength="16.6" lengthAdjust="spacingAndGlyphs">700</text>
<text class="tk" x="26.4" y="251.0" textLength="16.6" lengthAdjust="spacingAndGlyphs">850</text>
<text class="tk" x="20.8" y="299.0" textLength="22.2" lengthAdjust="spacingAndGlyphs">1000</text>
<text class="tk" x="81.3" y="314.1" textLength="17.6" lengthAdjust="spacingAndGlyphs">60N</text>
<text class="tk" x="119.4" y="314.1" textLength="17.6" lengthAdjust="spacingAndGlyphs">30N</text>
<text class="tk" x="163.4" y="314.1" textLength="5.9" lengthAdjust="spacingAndGlyphs">0</text>
<text class="tk" x="195.6" y="314.1" textLength="17.6" lengthAdjust="spacingAndGlyphs">30S</text>
<text class="tk" x="233.7" y="314.1" textLength="17.6" lengthAdjust="spacingAndGlyphs">60S</text>
<text class="tk" x="289.3" y="93.1" textLength="5.3" lengthAdjust="spacingAndGlyphs">8</text>
<text class="tk" x="289.3" y="176.5" textLength="5.3" lengthAdjust="spacingAndGlyphs">4</text>
<text class="sf" font-size="16" transform="translate(12.9,183.6) rotate(-90)" text-anchor="middle" textLength="110.5" lengthAdjust="spacing">Pressure (mb)</text>
<text class="sf" font-size="16" transform="translate(312.8,184.1) rotate(-90)" text-anchor="middle" textLength="93" lengthAdjust="spacing">Height (km)</text>
<text class="sf" font-size="14" x="53.7" y="61.3" textLength="114.3" lengthAdjust="spacing">Cloud ice+liquid</text>
<text class="sf" font-size="14" x="246.7" y="61.3" textLength="33.6" lengthAdjust="spacing">g/kg</text>
<clipPath id="c2"><rect x="375.3" y="71.5" width="223.4" height="224.0"/></clipPath>
<g clip-path="url(#c2)">
<rect x="375.3" y="71.5" width="223.4" height="224.0" fill="#9370DB"/>
<path fill="#0000C8" d="M369.5,164.6L375.3,160.2C375.7,159.7 377.4,157.6 378.3,156.4C379.2,155.3 381.1,152.8 382.0,151.4C383.0,150.1 384.4,147.7 385.2,146.4C386.0,145.1 387.7,142.6 388.1,142.0C388.5,141.4 387.8,142.8 388.3,142.1C388.9,141.4 391.2,138.6 392.1,137.1C393.0,135.6 394.3,132.6 395.2,130.8C396.2,129.0 397.9,125.3 399.0,123.3C400.1,121.2 402.1,117.6 403.4,115.7C404.7,113.9 406.9,111.1 408.4,109.4C409.9,107.8 413.0,104.8 414.7,103.2C416.4,101.5 419.3,98.5 421.0,96.9C422.7,95.3 425.8,92.7 427.3,91.2C428.8,89.8 431.1,87.5 432.3,86.2C433.5,85.0 435.0,82.8 436.1,81.8C437.1,80.9 438.9,79.5 439.8,79.1C440.7,78.6 442.0,78.3 443.0,78.3C443.9,78.3 445.8,78.8 446.7,79.3C447.6,79.9 449.5,81.9 449.9,82.4C450.3,82.9 449.4,82.0 449.8,83.1C450.2,84.2 452.2,88.3 452.9,90.6C453.6,93.0 454.4,97.8 454.8,100.7C455.2,103.5 455.8,109.3 456.0,112.0C456.3,114.6 456.7,118.2 456.7,120.7C456.7,123.3 456.3,128.3 456.0,130.8C455.8,133.3 455.2,137.8 454.8,139.6C454.4,141.4 453.3,142.5 452.9,144.5C452.5,146.5 452.1,151.5 451.7,154.6C451.2,157.6 450.3,163.8 449.8,167.1C449.3,170.5 448.4,176.4 447.9,179.7C447.4,182.9 446.2,189.1 446.0,191.6C445.8,194.1 446.7,195.9 446.7,198.5C446.7,201.1 446.1,208.6 445.8,211.1C445.6,213.5 444.9,215.2 444.8,217.0C444.8,218.8 445.2,222.7 445.5,224.5C445.7,226.4 446.7,229.6 446.7,230.8C446.8,232.1 445.7,233.1 446.0,234.0C446.3,234.8 448.2,236.8 449.1,237.1C450.1,237.3 451.8,235.8 452.9,235.8C454.0,235.9 456.0,237.2 457.3,237.7C458.6,238.2 461.1,239.4 462.3,239.6C463.6,239.8 465.7,238.6 466.7,239.0C467.7,239.3 469.0,240.9 469.9,242.1C470.7,243.3 472.2,246.6 473.0,247.8C473.8,248.9 474.8,251.3 475.5,250.9C476.2,250.5 477.4,246.3 478.0,244.6C478.6,243.0 479.5,239.6 479.9,238.4C480.4,237.1 480.9,235.0 481.4,235.2C481.9,235.4 483.0,238.5 483.7,239.6C484.3,240.7 485.5,242.7 486.2,243.4C486.9,244.0 488.1,245.1 488.7,244.6C489.3,244.1 490.0,240.8 490.6,239.6C491.1,238.4 492.1,235.8 492.7,235.6C493.3,235.3 494.4,237.2 495.0,237.7C495.6,238.3 496.7,240.2 497.2,239.6C497.8,239.0 498.8,235.0 499.4,233.3C499.9,231.7 500.8,228.6 501.3,227.0C501.8,225.5 502.5,222.3 503.1,221.4C503.8,220.5 505.2,220.5 506.3,220.5C507.4,220.5 510.0,220.9 511.3,221.4C512.6,221.8 515.0,223.2 516.3,223.9C517.7,224.6 520.1,226.1 521.4,226.8C522.6,227.5 525.6,228.6 526.0,228.9C526.4,229.2 524.3,229.5 524.4,228.9C524.5,228.3 526.3,226.1 526.9,224.5C527.5,222.9 528.5,218.6 528.8,217.0C529.0,215.4 528.9,214.3 528.8,212.3C528.7,210.4 528.4,205.0 528.2,202.3C527.9,199.6 527.3,194.9 526.9,192.2C526.5,189.6 525.6,184.7 525.0,182.2C524.4,179.7 523.2,175.5 522.5,173.4C521.8,171.3 520.7,168.0 520.0,166.5C519.3,165.0 518.4,163.0 517.6,162.1C516.8,161.2 514.9,160.1 513.8,160.0C512.7,159.8 510.5,160.3 509.4,160.8C508.3,161.4 506.6,162.8 505.7,164.0C504.7,165.2 503.3,167.9 502.5,169.6C501.8,171.4 500.7,175.0 500.0,177.2C499.3,179.3 498.2,183.8 497.5,186.0C496.8,188.1 495.6,191.7 495.0,193.5C494.3,195.2 493.1,198.6 492.5,199.1C491.9,199.7 491.1,198.3 490.6,197.9C490.1,197.5 489.3,196.2 488.7,196.0C488.1,195.8 486.9,196.3 486.2,196.6C485.5,197.0 484.3,197.8 483.7,198.5C483.0,199.2 481.9,202.0 481.2,201.7C480.4,201.3 478.7,198.1 478.0,196.0C477.4,193.9 476.6,188.8 476.1,186.0C475.6,183.1 474.8,177.7 474.3,174.7C473.8,171.6 472.9,166.4 472.4,163.4C471.9,160.3 470.9,154.9 470.5,152.0C470.1,149.2 469.6,144.2 469.2,142.0C468.9,139.8 468.3,137.6 468.0,135.8C467.7,134.0 467.2,130.3 467.1,128.3C467.0,126.3 467.2,123.1 467.4,120.7C467.5,118.4 467.7,113.4 468.0,110.7C468.2,108.0 468.8,103.2 469.2,100.7C469.7,98.1 470.4,94.0 471.1,91.9C471.8,89.7 473.3,85.9 474.3,84.3C475.3,82.7 477.2,80.7 478.7,79.9C480.1,79.2 483.4,79.1 484.9,78.7C486.4,78.2 488.8,76.9 490.0,76.5C491.1,76.2 492.9,76.0 493.7,76.2C494.6,76.4 495.6,77.2 496.2,78.0C496.9,78.9 498.1,81.2 498.7,82.4C499.4,83.7 500.6,86.4 501.3,87.5C501.9,88.6 503.1,90.1 503.8,90.6C504.4,91.2 505.6,91.8 506.3,91.6C507.0,91.4 508.0,90.2 508.8,89.4C509.6,88.5 511.4,86.6 512.6,85.6C513.7,84.6 516.2,82.5 517.6,81.8C518.9,81.1 521.6,80.5 522.6,80.3C523.6,80.1 524.0,80.3 525.0,80.6C526.0,80.8 528.5,81.9 530.0,82.4C531.6,82.9 534.8,83.8 536.3,84.3C537.8,84.8 540.0,85.4 541.4,86.2C542.7,87.0 545.0,89.3 546.4,90.6C547.7,91.9 550.1,94.6 551.4,96.3C552.7,97.9 555.1,101.2 556.4,103.2C557.8,105.1 560.2,108.7 561.4,110.7C562.7,112.7 564.8,116.2 565.8,118.2C566.9,120.2 568.7,123.9 569.6,125.8C570.5,127.6 571.9,130.4 572.7,132.1C573.6,133.7 575.0,136.7 575.9,138.3C576.7,140.0 578.4,144.1 579.0,144.6C579.6,145.1 579.8,141.5 580.3,142.0C580.8,142.5 582.0,146.5 582.8,148.3C583.5,150.0 585.1,153.5 585.9,155.2C586.8,156.9 588.3,159.6 589.1,160.8C589.8,162.1 590.8,164.1 591.6,164.6C592.3,165.1 593.8,164.8 594.7,164.6C595.7,164.4 598.1,163.5 598.6,163.4L605.4,162.7L605.4,317.8L356.7,317.8L369.5,164.6Z"/>
<path fill="#3C64E6" d="M369.5,182.2L375.3,179.7C375.7,179.1 377.3,177.4 378.3,175.9C379.3,174.4 380.9,171.6 382.0,169.6C383.2,167.7 384.7,164.8 385.8,162.7C386.9,160.6 388.5,157.9 389.6,155.8C390.7,153.7 392.3,151.0 393.4,148.9C394.4,146.8 395.9,143.0 396.5,142.0C397.1,141.0 396.5,143.2 397.1,142.1C397.8,141.0 399.8,136.8 400.9,134.6C402.0,132.3 403.3,129.1 404.7,127.0C406.0,125.0 408.0,122.6 409.7,120.7C411.4,118.9 414.1,116.4 416.0,114.5C417.8,112.6 420.4,109.9 422.2,108.2C424.1,106.5 426.8,104.9 428.5,103.2C430.2,101.5 432.2,98.7 433.5,96.9C434.9,95.1 436.3,92.5 437.3,91.2C438.3,90.0 439.5,89.2 440.4,88.7C441.4,88.3 442.6,87.8 443.6,88.1C444.5,88.4 446.0,89.3 446.7,90.6C447.5,91.9 447.9,94.6 448.5,96.9C449.1,99.1 450.3,102.9 450.8,105.7C451.2,108.5 451.5,112.7 451.7,115.7C451.8,118.7 452.1,122.8 452.0,125.8C452.0,128.8 451.7,132.8 451.3,135.8C450.9,138.8 449.9,143.3 449.5,145.8C449.1,148.2 448.9,149.4 448.5,152.0C448.1,154.7 446.6,163.0 446.6,163.4C446.6,163.7 448.5,154.0 448.6,154.6C448.7,155.1 447.7,163.4 447.1,167.1C446.5,170.9 445.4,175.9 444.8,179.7C444.3,183.4 443.7,188.5 443.3,192.2C442.9,196.0 442.5,201.0 442.1,204.8C441.7,208.6 441.1,215.5 440.8,217.4C440.6,219.2 440.4,215.5 440.4,217.0C440.4,218.5 440.5,224.0 440.8,227.0C441.1,230.1 441.8,234.3 442.3,237.1C442.8,239.9 443.6,243.2 444.2,245.9C444.8,248.5 445.8,253.4 446.1,254.7L446.1,330.0L369.5,330.0L369.5,182.2Z"/>
<path fill="#3C64E6" d="M444.2,245.9C444.6,246.6 447.1,250.6 447.4,251.5C447.6,252.5 445.7,252.5 446.0,252.8C446.3,253.0 448.8,253.7 449.8,253.4C450.8,253.2 452.4,251.3 453.5,250.9C454.7,250.5 457.4,250.3 458.6,250.3C459.7,250.2 461.3,251.1 462.3,250.7C463.3,250.2 465.2,247.4 466.1,247.1C467.0,246.8 468.5,247.6 469.2,248.4C470.0,249.2 471.1,252.0 471.7,253.4C472.4,254.8 473.6,258.7 474.3,259.1C474.9,259.4 476.1,257.1 476.8,255.9C477.4,254.8 478.4,251.7 478.9,250.3C479.4,248.9 480.2,246.3 480.5,245.3C480.9,244.3 481.4,242.3 481.8,242.7C482.2,243.2 483.2,246.8 483.7,248.4C484.2,250.0 485.0,252.9 485.6,254.7C486.1,256.4 487.6,261.6 488.1,261.6C488.6,261.6 489.0,256.6 489.3,254.7C489.7,252.8 490.2,248.6 490.6,247.1C491.0,245.7 491.8,244.0 492.2,244.0C492.7,244.0 493.5,246.2 494.0,247.1C494.4,248.1 495.1,250.3 495.6,250.9C496.1,251.5 497.0,252.0 497.5,251.5C498.0,251.0 498.8,248.5 499.4,247.1C500.0,245.8 501.1,242.8 501.9,241.5C502.6,240.2 504.1,237.8 505.0,237.1C505.9,236.3 507.6,235.8 508.8,235.8C510.0,235.8 512.5,236.4 513.8,237.1C515.2,237.8 517.7,239.9 518.8,240.9C520.0,241.8 522.5,243.8 522.6,244.0C522.8,244.2 519.8,242.0 520.0,242.1C520.2,242.3 522.8,244.4 523.8,245.3C524.8,246.1 526.5,247.6 527.5,248.4C528.5,249.2 530.7,251.9 531.3,251.5C531.9,251.2 532.1,247.8 532.3,245.9C532.5,244.0 532.6,239.6 532.6,237.1C532.6,234.6 532.4,229.7 532.3,227.0C532.2,224.4 531.8,219.0 531.9,217.0C532.0,215.0 533.1,214.3 533.2,212.3C533.3,210.4 532.8,205.0 532.6,202.3C532.3,199.6 531.7,194.9 531.3,192.2C530.9,189.6 530.0,184.9 529.4,182.2C528.8,179.5 527.6,174.8 526.9,172.1C526.2,169.5 525.1,164.8 524.4,162.1C523.7,159.4 522.4,154.7 521.9,152.0C521.4,149.4 520.9,143.0 520.6,142.0C520.4,141.0 520.5,145.1 520.1,144.6C519.7,144.1 518.3,140.0 517.6,138.3C516.9,136.7 515.7,133.7 515.1,132.1C514.4,130.4 513.1,127.3 512.6,125.8C512.0,124.3 511.1,121.8 511.1,120.7C511.0,119.7 511.6,119.4 511.9,118.2C512.3,117.1 513.3,113.6 513.8,112.0C514.3,110.3 515.0,107.2 515.7,105.7C516.4,104.2 517.9,101.8 518.8,100.7C519.8,99.5 522.5,97.4 522.6,96.9C522.8,96.4 519.7,97.1 520.0,96.9C520.3,96.7 523.5,95.6 525.0,95.4C526.5,95.1 529.6,95.1 531.3,95.0C533.0,95.0 536.1,94.8 537.6,95.0C539.1,95.2 541.3,95.6 542.6,96.3C543.9,96.9 546.4,98.8 547.6,100.0C548.9,101.3 550.9,104.1 552.0,105.7C553.2,107.3 555.2,110.2 556.4,112.0C557.6,113.7 559.7,117.0 560.8,118.9C561.9,120.7 563.6,123.8 564.6,125.8C565.6,127.7 567.4,131.4 568.4,133.3C569.3,135.2 570.7,139.1 571.5,140.2C572.2,141.4 573.2,140.9 574.0,142.0C574.8,143.1 576.2,146.4 577.1,148.3C578.1,150.1 580.0,153.8 580.9,155.8C581.8,157.8 583.2,161.4 584.1,163.4C584.9,165.3 586.4,168.6 587.2,170.3C588.0,171.9 589.7,174.7 590.3,175.9C591.0,177.2 591.6,179.4 592.2,179.7C592.8,179.9 593.9,178.2 594.7,177.8C595.6,177.4 598.1,176.7 598.6,176.5L605.4,175.9L605.4,317.8L442.3,330.0L444.2,245.9Z"/>
<path fill="#3C64E6" d="M473.0,138.3C472.9,135.3 473.3,131.5 473.6,129.5C474.0,127.5 474.8,124.5 475.5,123.3C476.2,122.1 477.6,121.0 478.7,120.5C479.7,120.0 482.8,120.4 483.7,119.7C484.6,119.1 485.1,117.6 485.6,115.7C486.0,113.8 486.3,107.9 486.8,105.7C487.3,103.5 488.7,100.7 489.3,99.4C490.0,98.1 491.2,96.2 491.8,95.6C492.5,95.0 493.8,94.7 494.4,95.0C494.9,95.3 495.8,96.9 496.2,98.1C496.7,99.4 497.2,102.6 497.5,104.4C497.8,106.3 498.2,109.8 498.5,112.0C498.8,114.1 499.5,118.6 500.0,120.7C500.5,122.9 501.9,126.6 502.5,128.3C503.1,130.0 504.1,132.0 504.4,133.3C504.7,134.6 505.1,137.0 505.0,138.3C504.9,139.7 504.2,141.9 503.8,143.4C503.4,144.8 502.4,147.7 501.9,149.5C501.4,151.4 500.5,155.1 500.0,157.1C499.5,159.1 498.6,162.6 498.1,164.6C497.6,166.6 496.7,170.3 496.2,172.1C495.7,174.0 494.9,177.1 494.4,178.4C493.8,179.7 492.8,181.9 492.2,181.9C491.6,181.9 490.6,179.5 490.0,178.4C489.3,177.4 488.1,174.9 487.4,174.0C486.8,173.2 485.6,172.1 484.9,171.9C484.3,171.7 483.3,172.6 482.4,172.8C481.5,173.0 478.9,174.7 478.0,173.4C477.2,172.1 476.6,166.2 476.1,163.4C475.6,160.5 474.7,155.4 474.3,152.0C473.8,148.7 473.1,141.3 473.0,138.3Z"/>
<path fill="#0000C8" d="M445.5,271.6C445.6,270.8 446.6,270.2 446.7,271.0C446.9,271.8 447.2,278.9 447.1,279.8C447.0,280.7 446.0,280.6 445.8,279.8C445.7,279.0 445.4,272.5 445.5,271.6Z"/>
<path fill="#0000C8" d="M464.8,299.9L467.4,296.1C467.9,295.7 471.2,293.1 472.4,292.4C473.5,291.6 476.3,290.2 477.4,289.6C478.5,289.0 481.1,287.3 481.8,287.3C482.5,287.4 482.5,289.3 483.0,289.8C483.6,290.4 485.5,292.0 486.2,292.1C486.9,292.2 488.8,291.7 489.3,291.1C489.8,290.5 490.2,288.2 490.6,287.3C490.9,286.4 491.6,283.5 492.2,283.3C492.9,283.1 495.3,284.9 496.2,285.4C497.1,286.0 499.1,287.4 500.0,288.0C500.9,288.5 502.7,289.8 503.8,290.5C504.8,291.1 508.2,293.2 508.8,293.6L511.3,297.4L513.8,302.4L464.8,299.9Z"/>
<path fill="#9370DB" d="M471.1,301.1L473.6,296.4C474.1,295.9 476.4,293.0 477.4,292.4C478.4,291.7 481.5,291.1 482.4,291.1C483.3,291.1 484.3,292.1 484.9,292.4C485.5,292.6 486.9,293.6 487.4,293.6C488.0,293.6 488.8,292.8 489.3,292.4C489.8,291.9 491.0,289.8 491.8,289.6C492.6,289.4 495.1,290.1 496.2,290.5C497.3,290.8 500.1,291.7 501.3,292.4C502.4,293.0 505.7,295.9 506.3,296.4L508.8,301.1L471.1,301.1Z"/>
<path fill="#789BF2" d="M369.5,199.8L375.3,197.3C375.7,196.5 377.3,194.1 378.3,192.2C379.3,190.4 380.9,187.0 382.0,184.7C383.2,182.4 384.7,179.5 385.8,177.2C386.9,174.8 388.5,171.5 389.6,169.0C390.7,166.6 392.2,163.2 393.4,160.8C394.5,158.5 396.1,155.4 397.1,153.3C398.2,151.2 399.4,148.7 400.3,147.0C401.1,145.3 402.1,142.9 402.8,142.0C403.4,141.1 403.6,142.1 404.7,140.8C405.7,139.5 408.2,135.4 409.7,133.3C411.2,131.2 413.0,128.9 414.7,127.0C416.4,125.1 419.1,122.6 421.0,120.7C422.9,118.9 425.6,116.4 427.3,114.5C429.0,112.6 431.0,110.1 432.3,108.2C433.6,106.3 435.0,103.4 436.1,101.9C437.1,100.4 438.2,98.8 439.2,98.1C440.1,97.5 441.5,97.3 442.3,97.5C443.2,97.7 444.2,98.4 444.8,99.4C445.5,100.4 446.3,102.5 446.7,104.4C447.2,106.3 447.7,109.5 448.0,112.0C448.3,114.4 448.6,117.9 448.9,120.7C449.1,123.6 449.6,127.4 449.9,130.8C450.1,134.2 451.1,139.8 450.5,143.4C449.9,146.9 446.8,151.0 445.8,154.6C444.9,158.1 444.8,163.4 444.2,167.1C443.6,170.9 442.6,175.9 442.1,179.7C441.5,183.4 440.9,188.5 440.4,192.2C440.0,196.0 439.6,201.0 439.2,204.8C438.8,208.6 438.2,215.5 437.9,217.4C437.7,219.2 437.4,215.5 437.3,217.0C437.2,218.5 437.1,224.0 437.1,227.0C437.1,230.1 437.1,234.1 437.3,237.1C437.5,240.1 438.2,244.1 438.6,247.1C438.9,250.2 439.6,254.2 439.8,257.2C440.0,260.2 439.7,264.6 439.8,267.2C439.9,269.9 440.4,273.6 440.4,274.8L440.4,330.0L369.5,330.0L369.5,199.8Z"/>
<path fill="#789BF2" d="M436.0,279.8C436.5,280.5 439.8,284.9 441.0,285.4C442.1,286.0 444.8,285.2 446.0,284.8C447.2,284.5 449.9,283.0 451.0,282.3C452.2,281.6 455.0,279.9 456.0,279.2C457.1,278.4 459.0,277.0 459.8,276.0C460.6,275.1 462.3,272.2 463.0,271.0C463.6,269.8 464.9,266.5 465.5,265.4C466.1,264.3 467.3,261.7 468.0,261.6C468.6,261.4 470.3,263.6 471.1,264.1C471.9,264.6 474.1,266.3 474.9,266.0C475.7,265.6 477.5,262.3 478.0,261.0C478.6,259.6 479.3,255.9 479.7,254.7C480.0,253.4 480.7,251.2 480.9,250.3C481.2,249.4 481.5,246.9 481.8,247.1C482.0,247.4 482.8,250.7 483.0,252.2C483.3,253.6 484.0,257.9 484.3,259.7C484.6,261.5 485.3,265.6 485.6,267.2C485.9,268.8 486.5,272.2 486.8,273.5C487.1,274.8 487.8,277.5 488.1,278.5C488.4,279.6 489.1,281.4 489.3,282.3C489.5,283.2 490.0,285.2 490.0,286.1C490.0,287.0 489.8,289.3 489.3,289.8C488.9,290.4 486.9,291.2 486.2,291.1C485.5,291.0 483.6,289.2 483.0,288.6C482.5,287.9 482.2,285.6 481.8,285.4C481.4,285.3 480.6,286.8 479.9,287.3C479.2,287.8 477.2,289.3 476.1,289.8C475.1,290.4 472.3,291.8 471.1,292.4C469.9,292.9 466.7,294.0 466.1,294.2L462.3,299.9L436.0,299.9L436.0,279.8Z"/>
<path fill="#789BF2" d="M490.6,271.0C490.0,269.8 490.2,266.6 490.2,264.7C490.2,262.9 490.4,258.8 490.6,257.2C490.8,255.6 491.5,253.1 491.8,252.8C492.2,252.5 493.1,253.6 493.5,254.7C493.8,255.8 494.1,259.4 494.4,261.0C494.6,262.5 495.1,265.6 495.6,266.6C496.1,267.6 497.5,268.7 498.1,268.5C498.7,268.2 499.6,266.1 500.0,264.7C500.4,263.4 500.9,260.1 501.3,258.4C501.6,256.8 502.0,253.6 502.5,252.2C503.0,250.7 504.2,248.6 505.0,247.8C505.9,246.9 507.7,246.0 508.8,245.9C509.9,245.8 512.1,246.6 513.2,247.1C514.3,247.7 516.1,249.1 517.0,250.3C517.8,251.5 519.1,254.3 519.5,255.9C519.9,257.5 520.0,260.5 519.8,262.2C519.7,263.9 518.8,267.0 518.2,268.5C517.7,270.0 516.3,272.2 515.7,273.5C515.1,274.9 514.0,277.2 513.8,278.5C513.7,279.9 513.9,282.5 514.4,283.6C514.9,284.7 517.1,285.9 517.6,286.7C518.1,287.5 518.6,289.3 518.2,289.8C517.8,290.4 515.5,291.1 514.4,291.1C513.4,291.1 511.1,290.3 510.1,289.8C509.0,289.3 507.3,288.3 506.3,287.3C505.3,286.3 503.4,283.6 502.5,282.3C501.7,281.0 500.6,278.4 500.0,277.3C499.4,276.2 498.9,274.6 498.1,274.1C497.4,273.6 495.4,273.9 494.4,273.5C493.3,273.1 491.1,272.2 490.6,271.0Z"/>
<path fill="#789BF2" d="M528.2,295.5C528.1,294.5 527.3,290.4 527.5,288.6C527.7,286.8 528.8,285.3 529.4,283.6C530.1,281.9 531.2,279.4 531.9,277.3C532.7,275.2 533.8,272.0 534.4,269.7C535.1,267.5 535.9,264.5 536.3,262.2C536.7,260.0 537.0,256.9 537.0,254.7C537.0,252.4 536.5,249.8 536.3,247.1C536.1,244.5 535.9,240.1 535.7,237.1C535.5,234.1 535.2,230.1 535.1,227.0C534.9,224.0 534.7,219.2 534.8,217.0C535.0,214.8 535.9,214.5 536.1,212.3C536.2,210.1 535.9,205.3 535.7,202.3C535.5,199.3 535.2,195.2 534.8,192.2C534.4,189.2 533.7,185.2 533.2,182.2C532.7,179.2 531.9,175.2 531.3,172.1C530.7,169.1 530.0,165.1 529.4,162.1C528.9,159.1 528.1,155.1 527.5,152.0C527.0,149.0 526.1,144.4 525.7,142.0C525.2,139.6 524.8,138.1 524.4,135.8C524.0,133.6 523.4,129.5 523.1,127.0C522.9,124.6 522.3,121.4 522.5,119.5C522.7,117.6 523.5,115.9 524.4,114.5C525.3,113.1 527.2,111.2 528.8,110.1C530.4,108.9 533.4,107.7 535.1,106.9C536.8,106.2 538.8,105.2 540.1,105.0C541.4,104.9 542.7,105.1 543.9,105.7C545.0,106.2 546.5,107.6 547.6,108.8C548.8,110.0 550.3,112.2 551.4,113.8C552.5,115.4 554.0,117.7 555.2,119.5C556.3,121.3 557.8,123.7 558.9,125.8C560.1,127.8 561.6,131.0 562.7,133.3C563.8,135.6 565.4,139.5 566.5,140.8C567.5,142.1 568.6,140.8 569.6,142.0C570.6,143.2 572.2,146.6 573.4,148.9C574.5,151.2 576.1,154.7 577.1,157.1C578.2,159.4 579.3,162.3 580.3,164.6C581.2,166.9 582.4,170.1 583.4,172.1C584.5,174.2 586.2,176.5 587.2,178.4C588.2,180.3 589.6,182.9 590.3,184.7C591.1,186.5 591.6,189.8 592.2,190.4C592.9,190.9 593.8,188.8 594.7,188.5C595.7,188.1 598.0,187.9 598.6,187.8L605.4,187.2L605.4,317.8L528.8,330.0L528.2,295.5Z"/>
<path fill="#789BF2" d="M489.0,139.6C489.0,137.3 489.6,133.6 490.0,132.1C490.3,130.5 491.3,128.8 491.8,128.3C492.4,127.7 493.7,127.5 494.4,128.0C495.0,128.5 496.4,130.7 496.9,132.1C497.3,133.4 497.8,136.0 497.7,138.3C497.7,140.7 496.7,147.0 496.2,149.5C495.8,152.0 494.8,155.5 494.4,157.1C493.9,158.6 493.1,161.1 492.7,161.1C492.3,161.1 491.8,158.6 491.5,157.1C491.1,155.5 490.3,151.9 490.0,149.5C489.6,147.2 489.0,141.9 489.0,139.6Z"/>
<path fill="#B0E0E6" d="M369.5,222.4L375.9,218.6C376.4,217.3 378.0,212.7 379.0,209.8C380.0,206.9 381.5,202.4 382.5,199.3C383.6,196.1 385.0,191.8 386.1,188.7C387.1,185.7 388.2,182.0 389.3,179.0C390.4,176.1 392.2,171.7 393.4,169.0C394.5,166.3 396.0,163.1 397.1,160.8C398.2,158.6 399.8,155.9 400.9,153.9C402.0,152.0 403.6,149.4 404.7,147.7C405.7,145.9 407.4,142.8 408.2,142.0C408.9,141.2 408.7,143.1 409.7,142.1C410.7,141.1 413.2,137.2 414.7,135.2C416.2,133.2 418.0,130.7 419.7,128.9C421.4,127.1 424.2,124.9 426.0,123.3C427.8,121.7 430.2,119.7 431.7,118.2C433.1,116.7 434.4,114.7 435.4,113.2C436.5,111.7 437.7,109.0 438.6,108.2C439.4,107.3 440.4,107.3 441.1,107.6C441.8,107.8 442.8,108.8 443.3,110.1C443.9,111.3 444.3,113.6 444.6,115.7C444.9,117.9 445.2,121.9 445.5,124.5C445.7,127.2 445.9,130.5 446.1,133.3C446.3,136.1 447.6,140.2 447.1,143.4C446.6,146.5 443.8,151.0 443.0,154.6C442.1,158.1 441.9,163.4 441.3,167.1C440.8,170.9 439.7,175.9 439.2,179.7C438.7,183.4 438.3,188.5 437.9,192.2C437.6,196.0 437.1,201.0 436.7,204.8C436.3,208.6 435.7,215.5 435.4,217.4C435.1,219.2 435.0,215.5 434.8,217.0C434.6,218.5 434.3,224.0 434.2,227.0C434.0,230.1 433.8,234.1 433.8,237.1C433.8,240.1 433.9,244.1 434.2,247.1C434.4,250.2 435.1,254.2 435.4,257.2C435.7,260.2 435.8,264.6 436.1,267.2C436.3,269.9 437.1,273.6 437.3,274.8L437.9,330.0L369.5,330.0L369.5,222.4Z"/>
<path fill="#B0E0E6" d="M433.4,276.0C434.0,276.8 437.3,281.0 438.5,282.3C439.6,283.6 442.6,286.7 443.5,287.3C444.4,287.9 445.1,287.5 446.0,287.3C446.9,287.1 449.9,286.0 451.0,285.4C452.2,284.9 454.9,283.1 456.0,282.3C457.2,281.5 459.9,279.4 461.1,278.5C462.2,277.7 465.0,275.4 466.1,274.8C467.2,274.1 469.6,272.9 470.5,272.9C471.4,272.9 473.0,274.1 473.6,274.8C474.3,275.4 475.8,277.5 475.9,278.5C476.0,279.6 474.8,282.5 474.3,283.6C473.7,284.6 471.9,286.5 471.1,287.3C470.3,288.2 468.4,290.4 467.4,291.1C466.3,291.8 463.5,293.2 462.3,293.6C461.2,294.0 457.9,294.7 457.3,294.9L451.0,299.9L433.4,299.9L433.4,276.0Z"/>
<path fill="#20B2AA" d="M457.9,287.3C458.3,286.9 460.1,285.9 461.1,285.4C462.0,285.0 464.0,284.2 464.8,284.2C465.7,284.2 467.3,284.9 467.6,285.4C467.9,285.9 467.9,287.4 467.4,288.0C466.8,288.5 464.6,289.3 463.6,289.6C462.6,289.8 460.6,289.9 459.8,289.8C459.1,289.7 458.2,289.2 457.9,288.8C457.7,288.5 457.5,287.8 457.9,287.3Z"/>
<path fill="#B0E0E6" d="M506.0,254.7L507.5,254.0L508.8,255.9L508.2,259.7L506.7,262.2L505.8,258.4Z"/>
<path fill="#B0E0E6" d="M545.1,294.9C544.0,294.8 539.3,294.6 537.6,294.2C535.9,293.9 534.6,293.4 533.8,292.4C533.1,291.3 532.6,288.8 532.6,287.3C532.6,285.8 533.2,284.0 533.8,282.3C534.4,280.6 535.5,278.1 536.3,276.0C537.2,274.0 538.6,270.8 539.5,268.5C540.3,266.2 541.5,263.0 542.0,261.0C542.4,258.9 542.9,256.7 542.6,254.7C542.3,252.6 540.7,249.8 540.1,247.1C539.5,244.5 538.9,240.1 538.6,237.1C538.2,234.1 538.0,230.1 537.8,227.0C537.7,224.0 537.6,219.2 537.6,217.0C537.6,214.8 538.0,214.5 538.0,212.3C538.0,210.1 537.7,205.3 537.6,202.3C537.4,199.3 537.2,195.2 537.0,192.2C536.7,189.2 536.1,185.2 535.7,182.2C535.3,179.2 534.8,175.2 534.4,172.1C534.1,169.1 533.6,165.1 533.2,162.1C532.8,159.1 532.4,155.1 531.9,152.0C531.5,149.0 530.0,143.5 530.0,142.0C530.0,140.5 531.7,143.0 531.9,142.1C532.2,141.2 531.4,138.1 531.6,135.8C531.7,133.6 532.6,129.3 533.2,127.0C533.8,124.8 534.7,122.4 535.7,120.7C536.7,119.1 539.0,116.7 540.1,115.7C541.2,114.7 542.3,114.2 543.2,114.2C544.2,114.2 545.3,114.7 546.4,115.7C547.4,116.7 549.0,119.1 550.1,120.7C551.3,122.4 552.8,125.0 553.9,127.0C555.0,129.1 556.3,132.5 557.7,134.6C559.1,136.6 562.0,138.9 563.3,140.7C564.6,142.6 565.5,145.0 566.5,147.0C567.4,149.0 568.7,152.1 569.6,154.1C570.5,156.1 571.5,158.3 572.4,160.3C573.2,162.3 574.4,165.5 575.1,167.4C575.9,169.3 576.9,170.7 577.5,172.9C578.1,175.1 578.6,179.5 579.0,182.2C579.4,184.9 579.3,189.2 580.0,190.7C580.7,192.3 582.9,191.8 583.8,192.6C584.7,193.4 585.3,194.8 585.9,195.9C586.6,196.9 587.4,198.6 588.2,199.6C589.0,200.7 590.4,202.8 591.2,202.7C592.1,202.5 593.2,199.7 593.8,198.9C594.5,198.1 595.0,197.6 595.7,197.1C596.4,196.7 598.2,196.2 598.6,196.0L605.4,195.4L607.9,297.4L545.1,297.4L545.1,294.9Z"/>
<path fill="#20B2AA" d="M369.5,242.1L375.3,239.6C375.6,239.0 376.8,237.5 377.7,235.8C378.5,234.1 379.9,230.4 380.8,228.3C381.6,226.2 382.7,223.7 383.3,222.0C383.9,220.3 384.5,218.5 384.9,217.0C385.4,215.5 385.8,214.9 386.4,212.3C387.0,209.7 388.3,203.2 389.0,199.8C389.6,196.4 390.3,192.7 390.8,189.7C391.4,186.7 392.1,182.5 392.7,179.7C393.4,176.9 394.3,173.3 395.2,170.9C396.2,168.4 397.8,165.4 399.0,163.4C400.2,161.3 402.0,159.0 403.4,157.1C404.8,155.2 407.0,152.5 408.4,150.8C409.8,149.1 411.6,147.1 412.8,145.8C414.0,144.4 415.4,143.3 416.6,142.0C417.8,140.7 419.6,138.6 421.0,137.1C422.4,135.6 424.5,133.4 426.0,132.1C427.5,130.7 429.8,129.4 431.0,128.3C432.3,127.2 433.2,125.8 434.2,124.5C435.1,123.2 436.5,120.3 437.3,119.5C438.2,118.6 439.3,118.3 439.8,118.9C440.3,119.4 440.6,121.5 440.8,123.3C441.0,125.0 440.9,128.5 441.1,130.8C441.2,133.1 441.5,135.9 441.7,138.3C441.9,140.8 442.6,144.7 442.3,147.1C442.0,149.6 440.4,151.6 439.8,154.6C439.2,157.6 438.8,163.4 438.3,167.1C437.8,170.9 437.1,175.9 436.7,179.7C436.2,183.4 435.8,188.5 435.4,192.2C435.0,196.0 434.5,201.0 434.2,204.8C433.8,208.6 433.2,215.5 432.9,217.4C432.6,219.2 432.3,215.5 432.0,217.0C431.7,218.5 431.3,224.0 431.0,227.0C430.8,230.1 430.5,234.1 430.4,237.1C430.2,240.1 430.0,244.1 430.0,247.1C430.1,250.2 430.4,254.2 430.8,257.2C431.1,260.2 431.7,264.6 432.3,267.2C432.9,269.9 433.9,272.5 434.8,274.8C435.6,277.0 437.1,280.2 437.9,282.3C438.8,284.4 439.9,286.6 440.4,288.6C441.0,290.6 441.5,294.5 441.7,295.5L442.3,330.0L369.5,330.0L369.5,242.1Z"/>
<path fill="#20B2AA" d="M545.1,292.4C544.2,292.5 541.4,292.2 540.1,291.7C538.8,291.3 537.0,290.2 536.3,289.2C535.7,288.3 535.5,286.9 535.7,285.4C535.9,284.0 536.8,281.8 537.6,279.8C538.3,277.8 539.8,274.5 540.7,272.3C541.7,270.0 543.1,266.8 543.9,264.7C544.6,262.7 545.6,260.1 545.7,258.4C545.9,256.7 545.6,255.3 545.1,253.4C544.6,251.5 543.3,248.3 542.6,245.9C541.9,243.4 541.1,239.9 540.7,237.1C540.3,234.3 540.0,230.1 539.8,227.0C539.7,224.0 539.4,219.2 539.5,217.0C539.5,214.8 540.0,214.5 540.1,212.3C540.2,210.1 539.9,205.3 539.8,202.3C539.7,199.3 539.6,195.2 539.5,192.2C539.3,189.2 539.0,185.2 538.8,182.2C538.6,179.2 538.4,175.2 538.2,172.1C538.0,169.1 537.6,165.1 537.3,162.1C537.0,159.1 536.7,155.1 536.3,152.0C536.0,149.0 535.0,143.7 535.1,142.0C535.1,140.3 536.2,142.1 536.6,140.8C537.0,139.5 537.1,135.4 537.6,133.3C538.1,131.2 539.2,128.4 540.1,127.0C540.9,125.6 542.4,124.5 543.2,123.9C544.1,123.3 545.0,123.1 545.7,123.3C546.5,123.4 547.4,124.2 548.3,125.1C549.1,126.1 550.5,127.9 551.4,129.5C552.3,131.1 553.2,133.6 554.5,135.8C555.9,138.1 559.2,142.4 560.6,144.6C562.0,146.9 562.9,148.9 563.8,150.9C564.8,152.9 566.0,156.0 566.8,157.9C567.7,159.9 568.8,162.3 569.6,164.2C570.4,166.1 571.4,168.9 572.0,170.5C572.6,172.1 573.1,173.1 573.6,175.0C574.2,177.0 575.1,181.2 575.5,183.4C576.0,185.7 576.1,188.7 576.6,190.0C577.2,191.3 578.4,191.6 579.3,192.2C580.1,192.9 581.5,193.6 582.3,194.5C583.1,195.4 584.0,196.9 584.6,198.1C585.1,199.4 585.5,201.2 585.9,202.7C586.4,204.1 587.0,206.4 587.4,207.8C587.9,209.3 588.4,211.3 588.9,212.3C589.5,213.3 590.6,214.6 591.2,214.5C591.8,214.3 592.6,212.4 593.1,211.5C593.6,210.5 594.1,208.7 594.5,207.8C594.9,206.9 595.5,205.9 595.7,205.5L605.4,204.8L607.9,287.3L572.7,287.0C571.2,286.9 565.0,286.5 562.7,286.3C560.4,286.2 559.1,285.8 557.7,285.8C556.3,285.8 554.5,286.0 553.3,286.3C552.1,286.6 550.5,287.1 549.5,287.7C548.5,288.3 547.0,289.8 546.4,290.5C545.7,291.2 546.1,292.2 545.1,292.4Z"/>
<path fill="#BCEE68" d="M369.5,255.9L375.3,253.4C375.7,252.7 377.3,250.3 378.3,248.4C379.3,246.5 381.0,243.1 382.0,240.9C383.1,238.6 384.3,235.6 385.2,233.3C386.0,231.1 387.0,227.9 387.7,225.8C388.4,223.7 389.2,220.8 389.6,219.5C390.0,218.2 389.9,218.1 390.2,217.0C390.5,215.9 391.0,214.5 391.5,212.3C391.9,210.1 392.8,205.3 393.4,202.3C393.9,199.3 394.7,195.2 395.2,192.2C395.8,189.2 396.5,185.0 397.1,182.2C397.7,179.4 398.5,175.8 399.4,173.4C400.2,170.9 401.6,167.9 402.8,165.9C403.9,163.8 405.8,161.5 407.2,159.6C408.6,157.7 410.6,155.2 412.2,153.3C413.8,151.4 416.3,148.6 417.8,147.0C419.3,145.4 421.2,143.6 422.2,142.6C423.3,141.6 423.8,141.0 424.7,140.2C425.7,139.5 427.4,138.2 428.5,137.7C429.6,137.2 431.6,136.5 432.3,136.8C432.9,137.1 432.7,138.6 432.9,139.6C433.1,140.6 433.4,142.1 433.5,143.4C433.7,144.6 434.0,147.1 434.2,148.0C434.3,148.9 434.5,147.6 434.5,149.5C434.5,151.5 434.4,157.3 434.2,160.8C433.9,164.4 433.3,169.6 432.9,173.4C432.5,177.2 432.0,182.2 431.7,186.0C431.3,189.7 431.1,194.7 430.8,198.5C430.5,202.3 430.0,208.3 429.8,211.1C429.5,213.8 429.3,214.6 429.1,217.0C429.0,219.4 428.7,224.0 428.5,227.0C428.3,230.1 428.0,234.1 427.9,237.1C427.7,240.1 427.5,244.1 427.5,247.1C427.6,250.2 427.9,254.2 428.3,257.2C428.6,260.2 429.3,264.6 430.0,267.2C430.7,269.9 432.0,272.5 432.9,274.8C433.8,277.0 435.2,280.2 436.1,282.3C436.9,284.4 438.0,286.6 438.6,288.6C439.1,290.6 439.6,294.5 439.8,295.5L440.4,330.0L369.5,330.0L369.5,255.9Z"/>
<path fill="#BCEE68" d="M545.1,290.8C544.4,291.0 542.4,290.8 541.4,290.5C540.3,290.1 538.8,289.2 538.2,288.6C537.6,287.9 537.4,287.2 537.6,286.1C537.8,284.9 538.7,282.9 539.5,281.1C540.2,279.2 541.7,275.8 542.6,273.5C543.5,271.3 545.0,268.2 545.7,266.0C546.5,263.7 547.2,260.3 547.4,258.4C547.5,256.6 547.1,255.3 546.6,253.4C546.2,251.5 545.1,248.3 544.5,245.9C543.9,243.4 543.0,239.9 542.6,237.1C542.2,234.3 541.8,230.1 541.6,227.0C541.4,224.0 541.1,219.2 541.1,217.0C541.1,214.8 541.8,214.5 541.9,212.3C541.9,210.1 541.7,205.3 541.6,202.3C541.5,199.3 541.5,195.2 541.4,192.2C541.2,189.2 541.0,185.2 540.8,182.2C540.7,179.2 540.6,175.2 540.5,172.1C540.4,169.1 540.2,165.1 540.1,162.1C540.0,159.1 539.8,154.7 539.8,152.0C539.8,149.4 539.9,146.6 540.1,144.5C540.2,142.5 540.5,139.9 540.8,138.3C541.2,136.7 541.8,135.0 542.4,133.9C542.9,132.9 543.8,131.9 544.5,131.4C545.2,131.0 546.2,130.6 547.0,130.8C547.8,131.0 548.7,131.6 549.5,132.7C550.3,133.7 551.6,136.0 552.4,137.7C553.2,139.4 554.1,141.9 555.0,143.8C556.0,145.6 557.5,148.0 558.6,150.0C559.6,152.1 561.2,155.1 562.2,157.2C563.2,159.3 564.5,162.2 565.3,164.2C566.2,166.2 567.1,168.9 567.7,170.5C568.3,172.1 568.7,173.1 569.2,175.0C569.8,177.0 570.9,181.2 571.5,183.4C572.1,185.7 572.5,188.4 573.0,190.0C573.5,191.5 574.1,192.6 574.5,193.7C575.0,194.9 575.6,196.2 576.0,197.4C576.5,198.6 577.0,200.9 577.5,201.5C578.1,202.2 579.1,202.0 579.7,201.9C580.3,201.8 581.0,200.8 581.5,201.2C582.0,201.5 582.6,203.1 583.0,204.2C583.5,205.3 584.2,207.1 584.6,208.6C584.9,210.0 585.3,212.0 585.6,213.7C585.9,215.4 586.1,216.5 586.6,219.7C587.0,223.0 588.2,233.6 588.6,235.3C589.0,237.0 589.1,232.3 589.3,231.2C589.6,230.1 590.0,229.4 590.5,227.9C591.0,226.4 592.0,223.2 592.7,221.2C593.4,219.2 594.5,216.1 594.9,214.5C595.4,213.0 595.5,211.4 595.7,210.8L601.6,210.1L607.9,229.6L607.9,286.1L572.7,286.1C571.2,286.0 565.0,285.6 562.7,285.4C560.4,285.3 559.1,284.9 557.7,284.8C556.3,284.8 554.5,284.9 553.3,285.2C552.1,285.5 550.5,286.1 549.5,286.7C548.5,287.3 547.0,288.6 546.4,289.2C545.7,289.8 545.9,290.7 545.1,290.8Z"/>
<path fill="#94BA32" d="M369.5,271.0L375.3,268.5C375.7,267.7 377.1,265.5 378.3,263.5C379.5,261.4 381.8,257.3 383.3,254.7C384.8,252.0 387.1,248.3 388.3,245.9C389.6,243.4 390.7,240.8 391.5,238.4C392.2,235.9 392.9,232.0 393.4,229.6C393.8,227.1 394.4,223.9 394.6,222.0C394.9,220.1 394.8,218.5 395.0,217.0C395.2,215.5 395.4,214.5 395.9,212.3C396.3,210.1 397.2,205.3 397.7,202.3C398.3,199.3 399.1,195.2 399.6,192.2C400.2,189.2 400.9,185.0 401.5,182.2C402.2,179.4 403.1,175.8 404.0,173.4C405.0,170.9 406.6,167.9 407.8,165.9C409.0,163.8 410.9,161.2 412.2,159.6C413.5,158.0 415.4,156.2 416.6,155.2C417.8,154.2 419.3,153.3 420.4,153.1C421.4,152.8 422.6,152.5 423.5,153.3C424.3,154.1 425.4,156.3 426.0,158.3C426.6,160.4 427.0,163.9 427.3,167.1C427.5,170.3 427.9,175.9 427.9,179.7C427.9,183.4 427.4,188.5 427.3,192.2C427.1,196.0 426.8,200.3 426.6,204.8C426.5,209.3 426.3,219.0 426.3,222.0C426.2,225.0 426.1,222.3 426.0,224.5C425.9,226.8 425.5,233.7 425.4,237.1C425.2,240.5 425.0,244.1 425.0,247.1C425.0,250.2 425.0,254.2 425.4,257.2C425.7,260.2 426.5,264.6 427.3,267.2C428.0,269.9 429.4,272.5 430.4,274.8C431.4,277.0 433.2,280.2 434.2,282.3C435.1,284.4 436.2,286.6 436.7,288.6C437.1,290.6 437.2,294.5 437.3,295.5L437.9,330.0L369.5,330.0L369.5,271.0Z"/>
<path fill="#94BA32" d="M545.7,287.3C545.0,287.8 544.6,288.8 543.9,288.8C543.1,288.9 541.3,288.0 540.7,287.6C540.1,287.1 539.7,286.7 539.8,285.8C539.9,284.9 540.7,283.3 541.4,281.7C542.0,280.0 543.5,276.9 544.5,274.8C545.4,272.6 546.9,269.5 547.6,267.2C548.3,265.0 549.0,261.8 549.1,259.7C549.3,257.6 549.0,255.5 548.6,253.4C548.2,251.3 547.0,248.3 546.4,245.9C545.8,243.4 545.0,239.9 544.5,237.1C544.0,234.3 543.5,230.1 543.2,227.0C543.0,224.0 542.5,219.2 542.6,217.0C542.7,214.8 543.7,214.5 543.9,212.3C544.0,210.1 543.7,205.3 543.6,202.3C543.5,199.3 543.3,195.2 543.2,192.2C543.1,189.2 543.0,185.2 542.9,182.2C542.8,179.2 542.6,175.2 542.6,172.1C542.6,169.1 542.5,164.9 542.6,162.1C542.7,159.3 542.8,155.6 543.0,153.3C543.2,151.0 543.5,148.6 543.9,147.0C544.2,145.4 545.0,143.7 545.5,142.7C546.0,141.8 546.5,140.9 547.0,140.8C547.5,140.7 548.3,141.2 549.1,142.1C550.0,143.0 551.8,145.5 552.8,147.0C553.8,148.6 555.0,150.8 555.9,152.5C556.8,154.3 558.0,156.9 558.9,158.8C559.9,160.8 561.4,163.7 562.2,165.7C563.0,167.7 563.7,169.9 564.5,172.1C565.2,174.4 566.6,178.3 567.5,180.9C568.3,183.6 569.3,187.9 570.0,190.0C570.6,192.0 571.2,192.9 571.9,194.5C572.5,196.1 573.5,198.6 574.1,200.4C574.8,202.2 575.5,204.6 576.0,206.3C576.6,208.0 577.2,211.3 577.8,211.8C578.3,212.4 579.1,210.4 579.7,210.1C580.2,209.7 581.1,209.4 581.5,209.7C582.0,210.0 582.3,211.3 582.7,212.3C583.0,213.4 583.5,215.2 583.8,216.7C584.1,218.3 584.7,220.9 584.9,222.6C585.2,224.4 585.4,225.4 585.6,228.3C585.7,231.2 585.9,237.8 586.1,242.1C586.2,246.5 586.2,252.7 586.3,257.2C586.4,261.7 586.4,268.1 586.6,272.3C586.7,276.4 587.9,283.0 587.2,284.8C586.4,286.6 583.0,284.1 581.5,284.2C580.1,284.3 579.1,285.2 577.8,285.4C576.5,285.7 574.3,286.1 572.7,286.1C571.2,286.1 569.2,285.7 567.7,285.4C566.2,285.2 564.2,284.5 562.7,284.2C561.2,283.9 559.2,283.6 557.7,283.6C556.2,283.6 554.0,283.9 552.7,284.2C551.3,284.5 549.9,285.0 548.9,285.4C547.8,285.9 546.5,286.8 545.7,287.3Z"/>
<path fill="#20B2AA" d="M586.8,248.4C586.9,245.8 587.6,245.1 587.8,245.3C588.0,245.4 588.5,246.8 588.6,249.7C588.7,252.5 588.7,267.1 588.6,269.7C588.5,272.4 587.8,272.6 587.6,272.3C587.4,272.0 586.9,270.0 586.8,267.2C586.7,264.5 586.7,251.0 586.8,248.4Z"/>
<path fill="#B0E0E6" d="M587.8,253.4C587.9,252.0 588.5,252.0 588.7,252.2C588.9,252.3 589.3,253.1 589.3,254.7C589.4,256.3 589.4,264.5 589.3,266.0C589.2,267.4 588.7,267.4 588.6,267.2C588.4,267.1 587.9,266.3 587.8,264.7C587.7,263.1 587.7,254.9 587.8,253.4Z"/>
<path fill="#94BA32" d="M593.3,223.4C593.6,222.7 595.2,221.8 595.5,222.7C595.8,223.6 595.9,230.2 595.7,231.2C595.4,232.3 593.8,231.9 593.4,231.6C593.1,231.3 592.7,229.6 592.7,228.6C592.7,227.7 593.0,224.1 593.3,223.4Z"/>
<path fill="#94BA32" d="M590.3,233.3C590.6,230.8 591.6,228.2 591.8,232.7C592.0,237.2 592.1,267.6 592.0,272.3C591.8,276.9 590.8,274.3 590.6,272.3C590.3,270.2 589.9,259.2 589.8,254.7C589.8,250.1 590.1,235.9 590.3,233.3Z"/>
<path fill="#F5E4BC" d="M399.4,222.0C399.5,220.0 400.0,215.0 400.3,212.3C400.5,209.7 401.0,204.8 401.5,202.3C402.0,199.8 403.1,195.2 404.0,193.5C404.9,191.8 407.2,190.2 408.4,189.5C409.7,188.8 412.4,188.1 413.4,188.2C414.5,188.3 415.8,189.3 416.6,190.4C417.3,191.4 418.6,194.1 419.1,196.0C419.5,197.9 419.8,201.3 420.0,204.8C420.1,208.3 420.4,219.0 420.4,222.0C420.4,225.0 420.1,225.0 420.0,227.0C419.9,229.1 419.6,234.4 419.5,237.1C419.3,239.8 418.9,244.5 418.7,247.1C418.6,249.8 418.4,254.5 418.5,257.2C418.6,259.9 419.0,264.9 419.5,267.2C420.0,269.6 421.4,272.8 422.2,274.8C423.1,276.8 425.0,280.5 426.0,282.3C427.0,284.1 429.6,286.8 429.8,288.0C429.9,289.1 428.3,290.8 427.3,291.1C426.3,291.4 423.5,290.7 422.2,290.5C421.0,290.2 418.8,289.0 417.8,289.2C416.8,289.5 415.7,292.1 414.7,292.4C413.7,292.6 410.9,291.3 410.3,291.1L410.3,299.9L369.5,299.9L369.5,282.3L375.3,281.7C375.8,281.4 378.3,280.5 379.5,279.8C380.8,279.0 383.2,277.1 384.6,276.0C385.9,275.0 388.5,272.1 389.6,272.0C390.7,271.9 392.0,275.2 392.7,275.4C393.5,275.6 394.6,274.6 395.2,273.5C395.8,272.4 396.7,269.4 397.1,267.2C397.5,265.1 397.9,259.9 398.1,257.2C398.3,254.5 398.5,249.8 398.6,247.1C398.7,244.5 398.9,239.8 399.0,237.1C399.1,234.4 399.3,229.1 399.4,227.0C399.4,225.0 399.3,224.0 399.4,222.0Z"/>
<path fill="#DEB887" d="M377.7,288.0C377.8,287.5 381.0,285.4 382.0,284.8C383.1,284.3 386.7,282.3 387.7,282.3C388.7,282.3 391.3,284.9 392.1,284.8C392.8,284.7 394.7,282.1 395.2,281.1C395.8,280.0 397.2,275.7 397.7,274.8C398.3,273.9 400.3,272.1 400.9,272.0C401.5,271.9 403.5,272.9 404.0,273.5C404.5,274.2 405.7,277.7 405.7,278.5C405.6,279.4 403.9,281.6 403.4,282.3C402.9,283.0 401.0,284.9 400.3,285.4C399.5,285.9 396.8,286.8 395.9,287.3C394.9,287.8 391.8,290.2 390.8,290.5C389.8,290.7 386.8,289.9 385.8,289.8C384.8,289.8 381.6,289.8 380.8,289.6C380.0,289.4 377.5,288.4 377.7,288.0Z"/>
<path fill="#DEB887" d="M408.4,278.5C408.5,277.8 409.6,276.4 410.3,276.0C411.0,275.6 412.7,275.1 413.4,275.4C414.2,275.6 415.7,277.2 416.0,277.9C416.2,278.7 415.8,280.4 415.3,281.1C414.8,281.7 413.0,282.5 412.2,282.6C411.4,282.6 409.9,281.8 409.4,281.3C408.9,280.8 408.3,279.2 408.4,278.5Z"/>
<circle cx="424.5" cy="287.6" r="0.6" fill="#DEB887"/>
<path fill="#F5E4BC" d="M547.0,222.0C546.9,220.0 546.7,215.3 546.6,212.3C546.5,209.4 546.4,203.1 546.4,199.8C546.3,196.4 546.3,190.6 546.4,187.2C546.4,183.9 546.5,177.3 546.6,174.7C546.8,172.0 547.0,168.6 547.4,167.1C547.8,165.6 548.9,164.1 549.5,163.6C550.1,163.1 551.4,162.9 552.0,163.1C552.7,163.3 553.9,164.3 554.5,165.2C555.2,166.2 556.4,168.8 557.0,170.3C557.7,171.8 558.8,174.6 559.6,176.5C560.3,178.5 561.9,182.4 562.7,184.7C563.5,187.0 565.0,191.3 565.8,193.5C566.7,195.7 568.3,199.0 569.0,201.0C569.6,203.0 570.4,206.6 570.9,208.6C571.3,210.6 571.9,214.6 572.1,216.1C572.3,217.6 572.2,218.4 572.2,219.5C572.3,220.6 572.3,222.9 572.5,224.5C572.6,226.2 573.1,230.1 573.4,232.1C573.7,234.1 574.1,238.5 574.6,239.6C575.1,240.7 576.6,240.7 577.1,240.2C577.7,239.7 578.5,237.2 579.0,235.8C579.6,234.5 580.8,230.2 581.2,230.2C581.5,230.2 581.7,233.9 581.8,235.8C581.9,237.8 582.1,242.1 582.2,244.6C582.3,247.1 582.5,252.0 582.5,254.7C582.6,257.4 582.7,262.4 582.8,264.7C582.9,267.1 583.1,270.2 583.4,272.3C583.8,274.3 584.9,277.8 585.3,279.8C585.7,281.8 586.6,286.2 586.6,287.3C586.6,288.4 585.8,288.0 585.3,288.0C584.8,287.9 583.5,287.1 582.8,286.7C582.1,286.3 581.3,285.2 580.3,284.8C579.3,284.5 576.6,284.4 575.3,284.2C573.9,284.0 571.7,283.8 570.2,283.6C568.7,283.3 565.5,282.8 564.0,282.6C562.4,282.3 560.1,282.0 558.9,281.7C557.8,281.4 556.0,280.8 555.2,280.4C554.4,280.1 553.1,279.9 552.9,279.2C552.7,278.4 553.4,276.4 553.7,274.8C553.9,273.2 554.5,269.6 554.5,267.2C554.5,264.9 554.1,259.9 553.7,257.2C553.2,254.5 552.0,249.8 551.4,247.1C550.8,244.5 549.6,239.8 549.1,237.1C548.6,234.4 547.9,229.1 547.6,227.0C547.3,225.0 547.1,224.0 547.0,222.0Z"/>
<path fill="#DEB887" d="M552.0,222.0C551.9,220.0 551.9,215.0 552.0,212.3C552.1,209.7 552.4,204.5 552.7,202.3C552.9,200.1 553.4,197.5 553.9,196.0C554.4,194.5 555.8,191.6 556.4,191.2C557.0,190.9 557.8,192.5 558.3,193.5C558.8,194.5 559.6,196.8 560.2,198.5C560.8,200.2 562.0,204.0 562.7,206.1C563.4,208.1 564.6,211.5 565.2,213.6C565.8,215.7 566.7,220.5 567.1,222.0C567.5,223.5 568.1,222.9 568.4,224.5C568.6,226.2 569.0,231.9 569.2,234.6C569.5,237.3 569.9,242.0 570.2,244.6C570.5,247.3 571.2,252.2 571.5,254.7C571.8,257.2 572.3,262.0 572.7,263.5C573.2,265.0 574.0,265.6 574.6,266.0C575.3,266.4 577.2,265.8 577.8,266.6C578.3,267.4 578.7,270.7 578.8,272.3C578.8,273.8 578.5,277.4 578.0,278.5C577.6,279.7 576.3,280.6 575.3,281.1C574.2,281.5 571.6,281.7 570.2,281.7C568.9,281.7 566.4,281.4 565.2,281.1C564.0,280.7 562.1,280.0 561.4,279.2C560.8,278.3 560.4,276.4 560.2,274.8C559.9,273.2 559.8,269.6 559.6,267.2C559.3,264.9 558.7,259.9 558.3,257.2C557.9,254.5 556.9,249.8 556.4,247.1C555.9,244.5 555.0,239.8 554.5,237.1C554.1,234.4 553.2,229.1 552.9,227.0C552.6,225.0 552.1,224.0 552.0,222.0Z"/>
<path fill="#FFE100" d="M567.1,265.4C567.5,265.2 569.0,267.7 569.6,268.5C570.2,269.3 572.2,272.5 572.7,273.5C573.3,274.5 575.1,277.8 575.3,278.5C575.4,279.3 574.6,280.5 574.0,280.8C573.4,281.1 569.9,281.1 569.0,281.1C568.0,281.0 565.1,280.9 564.6,280.4C564.1,279.9 563.9,277.1 564.0,276.0C564.0,275.0 564.9,270.8 565.2,269.7C565.5,268.7 566.7,265.5 567.1,265.4Z"/>
<path fill="#94BA32" d="M409.7,297.4L410.9,292.4C411.3,292.4 414.0,292.6 414.7,292.4C415.4,292.1 417.1,289.7 417.8,289.6C418.6,289.4 421.3,290.7 422.2,290.8C423.2,291.0 426.4,291.5 427.3,291.3C428.1,291.2 430.0,289.1 431.0,289.2C432.0,289.3 436.7,292.0 437.3,292.4L437.3,297.4L409.7,297.4Z"/>
<path fill="#BCEE68" d="M410.3,297.4L410.7,293.0C410.9,292.9 412.4,291.8 412.8,291.7C413.3,291.7 415.1,292.3 415.3,292.4L416.2,297.4L410.3,297.4Z"/>
<path fill="#789BF2" d="M416.0,297.4L416.6,293.4C416.8,293.3 418.1,292.7 418.5,292.7C418.8,292.8 419.8,293.7 420.0,293.9L420.4,297.4L416.0,297.4Z"/>
<rect x="595.6" y="200.3" width="4.4" height="32.2" fill="#FFFFFF"/>
<rect x="591.8" y="232.1" width="8.2" height="40.4" fill="#FFFFFF"/>
<rect x="588.8" y="272.3" width="11.2" height="16.7" fill="#FFFFFF"/>
<rect x="545.7" y="288.2" width="54.3" height="8.8" fill="#FFFFFF"/>
<rect x="397.1" y="288.2" width="13.2" height="8.8" fill="#FFFFFF"/>
</g>
<rect x="375.3" y="71.5" width="223.4" height="224.0" fill="none" stroke="#000" stroke-width="1.15"/>
<path d="M410.8,71.5v-6.4M410.8,295.5v6.4M448.9,71.5v-6.4M448.9,295.5v6.4M487.0,71.5v-6.4M487.0,295.5v6.4M525.1,71.5v-6.4M525.1,295.5v6.4M563.2,71.5v-6.4M563.2,295.5v6.4M375.3,71.5h-6.4M375.3,103.5h-6.4M375.3,135.5h-6.4M375.3,199.5h-6.4M375.3,247.5h-6.4M375.3,295.5h-6.4M598.7,89.6h6.4M598.7,173.0h6.4" stroke="#000" stroke-width="1.15" fill="none"/>
<path d="M385.4,71.5v-3.3M385.4,295.5v3.3M398.1,71.5v-3.3M398.1,295.5v3.3M423.5,71.5v-3.3M423.5,295.5v3.3M436.2,71.5v-3.3M436.2,295.5v3.3M461.6,71.5v-3.3M461.6,295.5v3.3M474.3,71.5v-3.3M474.3,295.5v3.3M499.7,71.5v-3.3M499.7,295.5v3.3M512.4,71.5v-3.3M512.4,295.5v3.3M537.8,71.5v-3.3M537.8,295.5v3.3M550.5,71.5v-3.3M550.5,295.5v3.3M575.9,71.5v-3.3M575.9,295.5v3.3M588.6,71.5v-3.3M588.6,295.5v3.3" stroke="#333" stroke-width="0.7" fill="none"/>
<text class="tk" x="347.4" y="74.9" textLength="16.6" lengthAdjust="spacingAndGlyphs">300</text>
<text class="tk" x="347.4" y="106.9" textLength="16.6" lengthAdjust="spacingAndGlyphs">400</text>
<text class="tk" x="347.4" y="138.9" textLength="16.6" lengthAdjust="spacingAndGlyphs">500</text>
<text class="tk" x="347.4" y="202.9" textLength="16.6" lengthAdjust="spacingAndGlyphs">700</text>
<text class="tk" x="347.4" y="250.9" textLength="16.6" lengthAdjust="spacingAndGlyphs">850</text>
<text class="tk" x="341.8" y="298.9" textLength="22.2" lengthAdjust="spacingAndGlyphs">1000</text>
<text class="tk" x="402.3" y="314.0" textLength="17.6" lengthAdjust="spacingAndGlyphs">60N</text>
<text class="tk" x="440.4" y="314.0" textLength="17.6" lengthAdjust="spacingAndGlyphs">30N</text>
<text class="tk" x="484.4" y="314.0" textLength="5.9" lengthAdjust="spacingAndGlyphs">0</text>
<text class="tk" x="516.6" y="314.0" textLength="17.6" lengthAdjust="spacingAndGlyphs">30S</text>
<text class="tk" x="554.7" y="314.0" textLength="17.6" lengthAdjust="spacingAndGlyphs">60S</text>
<text class="tk" x="610.3" y="93.0" textLength="5.3" lengthAdjust="spacingAndGlyphs">8</text>
<text class="tk" x="610.3" y="176.4" textLength="5.3" lengthAdjust="spacingAndGlyphs">4</text>
<text class="sf" font-size="16" transform="translate(333.9,183.5) rotate(-90)" text-anchor="middle" textLength="110.5" lengthAdjust="spacing">Pressure (mb)</text>
<text class="sf" font-size="16" transform="translate(633.8,184.0) rotate(-90)" text-anchor="middle" textLength="93" lengthAdjust="spacing">Height (km)</text>
<text class="sf" font-size="14" x="374.7" y="61.2" textLength="114.3" lengthAdjust="spacing">Cloud ice+liquid</text>
<text class="sf" font-size="14" x="567.7" y="61.2" textLength="33.6" lengthAdjust="spacing">g/kg</text>
<clipPath id="c3"><rect x="214.8" y="430.0" width="223.4" height="224.0"/></clipPath>
<g clip-path="url(#c3)">
<rect x="214.8" y="430.0" width="223.4" height="224.0" fill="#F5E4BC"/>
<path fill="#94BA32" d="M229.6,662.9L229.6,654.0C229.4,653.0 228.8,649.9 228.3,647.8C227.9,645.8 227.2,643.9 226.8,641.6C226.4,639.3 226.1,636.7 226.1,634.0C226.1,631.3 226.5,628.2 226.8,625.2C227.1,622.3 227.3,619.4 227.7,616.4C228.1,613.5 228.4,610.4 229.0,607.7C229.5,604.9 230.1,602.8 230.8,600.1C231.6,597.4 232.5,594.3 233.4,591.3C234.2,588.4 235.1,585.2 235.9,582.5C236.6,579.9 236.9,577.4 237.7,575.4C238.6,573.3 239.7,572.2 240.9,570.3C242.0,568.4 243.6,566.4 244.7,564.1C245.7,561.7 246.4,559.0 247.2,556.5C247.9,554.0 248.4,551.7 249.0,549.0C249.7,546.3 250.1,542.9 250.9,540.2C251.8,537.5 252.9,535.2 254.1,532.7C255.2,530.1 256.7,528.0 257.8,525.1C259.0,522.2 260.0,518.2 261.0,515.1C261.9,511.9 262.7,508.6 263.5,506.3C264.3,504.0 265.0,503.0 266.0,501.4C267.0,499.7 268.5,498.0 269.8,496.3C271.0,494.7 272.5,493.2 273.5,491.3C274.6,489.4 275.2,487.1 276.1,485.0C276.9,482.9 277.6,480.6 278.6,478.7C279.6,476.9 280.9,474.5 282.1,474.0C283.2,473.5 284.3,475.0 285.5,475.6C286.6,476.2 288.0,476.1 288.9,477.5C289.7,478.9 289.8,481.3 290.4,483.8C291.0,486.3 291.7,489.6 292.3,492.6C292.8,495.5 293.3,498.9 293.8,501.4C294.2,503.8 294.6,505.0 295.0,507.5C295.5,510.0 296.1,513.4 296.7,516.3C297.3,519.3 298.1,522.4 298.6,525.1C299.0,527.8 299.2,530.6 299.6,532.7C299.9,534.7 299.8,536.4 300.4,537.7C301.1,538.9 302.5,539.7 303.6,540.2C304.6,540.7 306.1,541.2 306.7,540.8C307.3,540.4 307.0,539.0 307.1,537.7C307.2,536.3 307.4,534.4 307.6,532.7C307.8,530.9 307.9,528.4 308.4,527.0C308.8,525.6 309.5,525.4 310.5,524.5C311.5,523.5 312.9,522.5 314.3,521.4C315.6,520.2 317.1,518.7 318.7,517.6C320.2,516.4 322.0,515.5 323.7,514.4C325.4,513.4 327.4,512.7 328.7,511.3C330.0,509.9 330.5,507.6 331.2,506.3C331.9,504.9 332.2,504.2 333.1,503.2C334.0,502.3 335.7,501.7 336.9,500.7C338.0,499.8 339.3,498.6 340.0,497.6C340.7,496.5 340.9,495.7 341.0,494.4C341.1,493.2 340.9,491.4 340.6,490.1C340.4,488.7 340.0,487.4 339.4,486.3C338.7,485.1 337.9,484.2 336.9,483.1C335.8,482.1 334.0,481.2 333.1,480.0C332.2,478.9 331.6,478.1 331.2,476.2C330.8,474.4 330.8,471.6 330.6,468.7C330.4,465.8 330.3,462.0 330.2,458.7C330.1,455.3 330.1,452.0 330.0,448.6C329.8,445.3 329.5,441.7 329.3,438.6C329.2,435.5 329.0,431.4 329.0,430.0L329.0,423.5L360.1,423.5L360.1,430.0C360.3,431.0 360.8,433.8 361.4,436.0C361.9,438.3 362.6,441.1 363.2,443.6C363.9,446.1 364.7,449.4 365.1,451.1C365.6,452.8 365.5,451.5 366.0,453.6C366.5,455.7 367.5,460.3 368.2,463.7C368.9,467.0 369.7,470.4 370.3,473.7C370.9,477.1 371.4,480.4 371.9,483.8C372.4,487.1 372.8,490.9 373.2,493.8C373.5,496.7 373.8,497.8 374.1,501.4C374.4,504.9 374.6,511.1 375.1,515.1C375.6,519.0 376.3,522.2 377.0,525.1C377.6,528.0 378.0,530.1 378.8,532.7C379.7,535.2 380.9,537.7 382.0,540.2C383.0,542.7 384.3,545.0 385.1,547.7C386.0,550.4 386.5,553.6 387.0,556.5C387.5,559.4 387.8,562.4 388.3,565.3C388.7,568.2 388.9,571.9 389.5,574.1C390.1,576.3 390.9,577.7 392.0,578.8C393.2,579.9 395.1,579.6 396.4,580.7C397.8,581.7 399.0,583.3 400.2,585.0C401.3,586.8 402.4,589.0 403.3,591.3C404.3,593.6 405.0,596.1 405.8,598.9C406.7,601.6 407.6,604.7 408.4,607.7C409.1,610.6 409.6,613.5 410.2,616.4C410.9,619.4 411.5,622.3 412.1,625.2C412.7,628.2 413.5,631.3 414.0,634.0C414.5,636.7 415.0,639.4 415.3,641.6C415.5,643.8 415.3,646.3 415.3,647.2L415.3,662.9L229.6,662.9Z"/>
<path fill="#94BA32" d="M400.8,427.3L400.8,430.0C401.2,430.6 402.4,432.3 403.3,433.5C404.3,434.7 405.4,436.3 406.5,437.3C407.5,438.3 408.7,439.9 409.6,439.8C410.5,439.7 411.3,437.8 412.1,436.7C413.0,435.5 414.0,434.0 414.6,432.9C415.3,431.8 415.7,430.5 415.9,430.0L415.9,427.3L400.8,427.3Z"/>
<path fill="#F5E4BC" d="M306.7,542.1C305.9,541.8 303.6,542.7 302.3,543.3C301.1,544.0 300.1,544.5 299.2,545.8C298.2,547.2 297.5,551.1 296.7,551.5C295.8,551.9 294.8,549.4 294.2,548.4C293.5,547.3 293.3,544.5 292.9,545.2C292.6,545.9 292.3,549.8 292.0,552.7C291.8,555.7 291.5,559.4 291.3,562.8C291.1,566.1 290.9,569.6 290.8,572.8C290.7,576.1 290.8,579.9 290.8,582.5C290.7,585.2 290.9,586.9 290.4,588.8C289.9,590.7 288.2,592.6 287.9,593.8C287.6,595.1 289.1,594.7 288.6,596.4C288.1,598.0 286.0,601.4 284.8,603.9C283.7,606.4 282.4,609.1 281.7,611.4C281.0,613.7 280.4,615.4 280.4,617.7C280.4,620.0 281.0,623.1 281.7,625.2C282.4,627.3 283.7,628.8 284.8,630.3C286.0,631.7 287.4,633.2 288.6,634.0C289.8,634.9 291.1,634.5 292.3,635.3C293.4,636.0 294.4,638.0 295.4,638.4C296.5,638.8 297.2,638.5 298.6,637.8C299.9,637.1 301.9,635.3 303.6,634.0C305.3,632.8 307.1,631.4 308.6,630.3C310.1,629.1 311.0,627.5 312.4,627.1C313.7,626.7 315.5,628.1 316.8,627.7C318.0,627.4 319.0,625.5 319.9,625.2C320.9,624.9 321.4,625.0 322.4,625.9C323.5,626.7 325.0,628.7 326.2,630.3C327.3,631.8 328.5,633.6 329.3,635.3C330.2,637.0 330.6,639.7 331.2,640.3C331.8,640.9 332.4,639.8 333.1,639.1C333.8,638.3 334.9,636.1 335.6,635.9C336.3,635.7 336.9,636.5 337.5,637.8C338.1,639.1 338.7,643.4 339.4,643.4C340.0,643.4 340.5,638.8 341.3,637.8C342.0,636.7 342.6,637.0 343.8,637.2C344.9,637.4 346.9,638.9 348.2,639.1C349.4,639.2 350.3,638.8 351.3,637.8C352.4,636.7 353.3,634.4 354.4,632.8C355.6,631.1 357.1,629.4 358.2,627.7C359.4,626.1 360.7,624.4 361.4,622.7C362.0,621.0 362.2,619.8 362.0,617.7C361.8,615.6 360.9,613.1 360.1,610.2C359.3,607.2 358.0,603.3 357.0,600.1C355.9,597.0 354.8,594.3 353.8,591.3C352.9,588.4 352.1,585.6 351.3,582.5C350.5,579.5 349.4,575.5 348.8,572.8C348.2,570.2 348.0,568.4 347.5,566.6C347.1,564.7 346.7,562.2 346.3,561.5C345.9,560.9 345.5,562.2 345.0,562.8C344.5,563.4 344.0,564.6 343.1,565.3C342.3,566.0 341.0,566.6 340.0,567.2C339.0,567.8 337.8,568.6 336.9,568.8C335.9,569.0 335.2,568.4 334.4,568.4C333.5,568.5 332.7,569.5 331.8,569.3C331.0,569.1 330.3,567.9 329.3,567.2C328.4,566.5 327.7,565.5 326.2,565.1C324.7,564.6 322.0,565.0 320.5,564.7C319.1,564.4 318.3,564.2 317.4,563.4C316.5,562.7 315.9,561.2 314.9,560.3C313.8,559.3 312.1,559.2 311.1,557.8C310.2,556.3 309.9,553.6 309.2,551.5C308.6,549.4 307.8,546.8 307.4,545.2C306.9,543.6 307.6,542.4 306.7,542.1Z"/>
<path fill="#F5E4BC" d="M327.4,655.4C326.6,654.6 329.2,651.9 330.0,651.0C330.7,650.0 331.2,649.6 331.8,649.7C332.5,649.8 333.2,650.7 333.7,651.6C334.2,652.6 336.0,654.7 335.0,655.4C333.9,656.0 328.3,656.1 327.4,655.4Z"/>
<path fill="#F5E4BC" d="M232.7,617.1C233.5,616.4 234.7,617.8 235.2,619.0C235.8,620.1 236.1,622.1 236.1,624.0C236.1,625.9 235.8,628.6 235.2,630.3C234.7,631.9 233.5,634.0 232.7,634.0C232.0,634.0 231.2,632.1 230.8,630.3C230.5,628.4 230.5,624.9 230.8,622.7C231.2,620.5 232.0,617.7 232.7,617.1Z"/>
<path fill="#F5E4BC" d="M358.7,613.3C359.0,611.2 359.5,613.2 360.0,613.9C360.5,614.7 361.5,616.4 361.9,617.7C362.3,619.0 362.6,620.2 362.5,621.5C362.4,622.7 361.7,624.4 361.3,625.2C360.8,626.1 360.4,626.2 360.0,626.5C359.6,626.7 359.0,628.9 358.7,626.7C358.5,624.5 358.5,615.4 358.7,613.3Z"/>
<path fill="#F5E4BC" d="M380.1,646.2C380.1,645.1 381.1,643.4 381.6,643.4C382.1,643.5 382.9,645.4 382.9,646.6C382.9,647.7 382.1,650.4 381.6,650.4C381.1,650.3 380.1,647.4 380.1,646.2Z"/>
<path fill="#BCEE68" d="M278.6,525.7C279.4,526.1 279.4,529.8 279.8,532.7C280.2,535.5 280.8,539.4 281.1,542.7C281.4,546.0 281.6,549.4 281.7,552.7C281.8,556.1 281.8,559.4 281.7,562.8C281.6,566.1 281.5,569.6 281.3,572.8C281.2,576.1 281.1,579.5 280.8,582.5C280.6,585.6 280.3,588.4 279.8,591.3C279.3,594.3 278.6,597.2 277.9,600.1C277.3,603.0 276.6,606.0 276.1,608.9C275.5,611.8 274.8,614.8 274.8,617.7C274.8,620.6 275.3,623.8 276.1,626.5C276.8,629.2 278.1,631.5 279.2,634.0C280.2,636.5 281.2,639.5 282.3,641.6C283.5,643.7 284.8,645.5 286.1,646.6C287.4,647.6 289.0,647.7 289.9,647.8C290.7,647.9 290.0,647.4 291.0,647.2C292.1,647.0 294.4,647.5 296.0,646.6C297.7,645.6 299.5,643.0 301.1,641.6C302.6,640.1 304.1,638.7 305.5,637.8C306.8,636.9 308.2,636.1 309.2,635.9C310.3,635.7 311.2,636.0 311.7,636.5C312.3,637.1 312.8,637.6 312.6,639.1C312.4,640.5 311.3,643.2 310.5,645.3C309.7,647.4 308.6,650.2 308.0,651.6C307.4,653.1 306.9,653.6 306.7,654.0L306.7,662.9L231.5,662.9L231.5,654.0C231.6,653.0 231.8,650.1 232.1,647.8C232.4,645.6 232.8,642.4 233.4,640.3C233.9,638.2 234.4,637.0 235.2,635.3C236.1,633.6 237.5,632.0 238.4,630.3C239.2,628.5 239.4,625.8 240.3,624.6C241.1,623.5 242.6,624.3 243.4,623.4C244.2,622.4 244.8,621.2 245.3,619.0C245.8,616.8 246.3,613.3 246.5,610.2C246.8,607.0 246.9,603.3 246.9,600.1C246.9,597.0 246.5,594.3 246.5,591.3C246.5,588.4 246.6,585.0 246.9,582.5C247.2,580.1 247.8,578.6 248.2,576.6C248.5,574.6 248.7,572.6 249.0,570.3C249.4,568.0 249.8,565.3 250.3,562.8C250.8,560.3 251.2,557.4 252.2,555.3C253.1,553.2 254.4,551.9 256.0,550.2C257.5,548.6 259.9,547.1 261.6,545.2C263.3,543.3 264.4,540.5 266.0,538.9C267.6,537.4 269.6,537.2 271.0,535.8C272.5,534.4 273.5,532.4 274.8,530.8C276.1,529.1 277.7,525.4 278.6,525.7Z"/>
<path fill="#BCEE68" d="M333.1,518.0C334.1,517.7 335.2,518.1 336.2,518.8C337.3,519.6 338.5,521.4 339.4,522.6C340.2,523.9 341.0,524.7 341.3,526.4C341.5,528.0 340.9,530.6 340.6,532.7C340.3,534.7 340.0,536.8 339.4,538.9C338.7,541.0 337.7,543.4 336.9,545.2C336.0,547.0 335.2,548.6 334.4,549.6C333.5,550.6 332.7,551.8 331.8,551.2C331.0,550.7 330.2,548.5 329.3,546.5C328.5,544.4 327.5,541.2 326.8,538.9C326.1,536.6 325.4,534.9 324.9,532.7C324.5,530.5 323.6,527.3 324.1,525.7C324.5,524.2 326.5,524.2 327.4,523.2C328.4,522.3 329.0,521.0 330.0,520.1C330.9,519.2 332.0,518.2 333.1,518.0Z"/>
<path fill="#BCEE68" d="M378.2,581.3C378.8,580.8 379.3,583.0 380.1,584.4C380.9,585.9 382.2,588.3 383.2,590.1C384.3,591.8 385.3,593.5 386.4,595.1C387.4,596.7 388.4,599.0 389.5,599.5C390.7,600.0 392.1,598.7 393.3,598.2C394.4,597.8 395.5,596.7 396.4,597.0C397.4,597.3 398.1,598.8 398.9,600.1C399.8,601.5 400.5,603.7 401.4,605.1C402.4,606.6 403.5,607.7 404.6,608.9C405.6,610.2 406.9,611.0 407.7,612.7C408.6,614.4 409.0,616.7 409.6,619.0C410.2,621.3 410.9,624.0 411.5,626.5C412.1,629.0 413.0,631.7 413.4,634.0C413.8,636.3 414.3,638.7 414.0,640.3C413.7,641.9 412.7,643.0 411.5,643.4C410.2,643.9 408.1,643.0 406.5,642.8C404.8,642.6 403.1,642.1 401.4,642.2C399.8,642.3 397.8,642.8 396.4,643.4C395.1,644.1 394.9,645.5 393.3,646.2C391.7,646.9 388.0,648.8 387.0,647.8C386.0,646.9 387.2,642.4 387.0,640.3C386.8,638.2 386.5,636.7 385.7,635.3C385.0,633.8 383.4,631.9 382.6,631.5C381.8,631.1 381.4,632.1 380.7,632.8C380.1,633.4 379.5,635.5 378.8,635.3C378.2,635.1 377.4,633.2 377.0,631.5C376.5,629.8 376.2,628.4 376.1,625.2C376.0,622.1 376.3,616.9 376.3,612.7C376.3,608.5 376.1,604.3 376.1,600.1C376.1,595.9 376.0,590.7 376.3,587.6C376.7,584.4 377.6,581.8 378.2,581.3Z"/>
<path fill="#20B2AA" d="M263.5,581.3C264.3,581.4 264.9,581.9 265.4,583.2C265.9,584.4 266.3,586.4 266.6,588.8C266.9,591.2 267.2,594.5 267.3,597.6C267.4,600.7 267.2,604.5 267.3,607.7C267.4,610.8 267.5,613.7 267.9,616.4C268.3,619.2 268.8,621.7 269.8,624.0C270.7,626.3 272.4,628.2 273.5,630.3C274.7,632.4 275.9,634.2 276.7,636.5C277.4,638.8 277.7,641.2 277.9,644.1C278.2,647.0 278.2,652.3 278.3,654.0L278.3,662.9L235.9,662.9L235.9,654.0C235.9,652.8 235.8,648.7 235.9,646.6C236.0,644.5 236.1,643.2 236.5,641.6C236.9,639.9 237.7,637.8 238.4,636.5C239.0,635.3 239.4,634.2 240.3,634.0C241.1,633.8 242.4,635.0 243.4,635.3C244.4,635.6 245.7,636.7 246.5,635.9C247.4,635.1 247.7,632.0 248.4,630.3C249.2,628.5 250.0,626.7 250.9,625.2C251.9,623.8 253.3,623.6 254.1,621.5C254.8,619.4 255.1,615.8 255.3,612.7C255.6,609.5 255.6,605.8 255.7,602.6C255.8,599.5 255.7,596.5 256.0,593.8C256.2,591.2 256.2,588.8 257.0,586.9C257.7,585.0 259.3,583.5 260.4,582.5C261.4,581.6 262.7,581.2 263.5,581.3Z"/>
<path fill="#20B2AA" d="M395.8,609.5C396.8,608.7 398.0,608.4 398.9,608.9C399.9,609.4 400.6,611.2 401.4,612.7C402.3,614.1 403.0,616.0 404.0,617.7C404.9,619.4 406.0,620.8 407.1,622.7C408.1,624.6 409.4,626.9 410.2,629.0C411.1,631.1 411.8,633.6 412.1,635.3C412.4,637.0 412.4,638.1 412.1,639.1C411.8,640.0 411.0,641.1 410.2,640.9C409.5,640.7 408.5,638.5 407.7,637.8C407.0,637.1 406.6,636.4 405.8,636.5C405.1,636.6 404.4,638.2 403.3,638.4C402.3,638.6 400.8,638.3 399.6,637.8C398.3,637.3 396.9,636.3 395.8,635.3C394.6,634.2 393.4,633.0 392.7,631.5C391.9,630.0 391.4,628.4 391.1,626.5C390.9,624.6 391.1,622.3 391.4,620.2C391.6,618.1 391.9,615.7 392.7,613.9C393.4,612.2 394.7,610.4 395.8,609.5Z"/>
<path fill="#DEB887" d="M209.5,488.8L214.8,488.2C215.6,487.6 217.9,486.0 219.5,485.0C221.2,484.1 222.7,483.5 224.6,482.5C226.4,481.6 229.0,480.7 230.8,479.4C232.7,478.0 234.5,476.2 235.9,474.4C237.2,472.5 237.9,469.9 239.0,468.1C240.2,466.3 241.6,464.3 242.8,463.4C243.9,462.5 244.8,462.5 245.9,462.8C247.1,463.0 248.3,463.8 249.7,464.9C251.0,466.0 252.9,467.8 254.1,469.3C255.2,470.9 256.1,472.6 256.6,474.4C257.1,476.1 257.3,477.6 257.2,480.0C257.1,482.4 256.6,486.1 256.2,488.8C255.8,491.5 255.3,494.0 254.7,496.3C254.1,498.6 253.4,500.7 252.8,502.6C252.2,504.5 251.6,505.2 250.9,507.5C250.3,509.8 249.7,513.2 249.0,516.3C248.4,519.5 247.8,523.0 247.2,526.4C246.5,529.7 245.9,533.3 245.3,536.4C244.7,539.6 244.1,543.0 243.4,545.2C242.7,547.4 241.9,548.5 240.9,549.6C239.8,550.8 238.3,551.2 237.1,552.1C236.0,553.1 234.9,553.7 234.0,555.3C233.0,556.8 232.2,559.2 231.5,561.5C230.7,563.8 230.1,566.8 229.6,569.1C229.0,571.4 228.5,573.1 228.1,575.4C227.6,577.6 227.2,579.9 226.8,582.5C226.4,585.2 226.0,588.4 225.6,591.3C225.1,594.3 224.8,597.6 224.3,600.1C223.8,602.6 223.4,604.7 222.7,606.4C222.0,608.1 221.1,609.8 220.2,610.2C219.2,610.5 217.9,609.1 217.0,608.7C216.1,608.2 215.1,607.8 214.8,607.7L209.5,607.0L209.5,488.8Z"/>
<path fill="#DEB887" d="M209.5,630.3L214.8,630.3C215.3,630.6 217.1,631.1 218.3,632.1C219.5,633.2 221.0,634.8 222.0,636.5C223.1,638.3 223.9,640.9 224.6,642.8C225.2,644.7 225.7,646.0 225.8,647.8C225.9,649.7 225.3,653.0 225.2,654.0L225.2,662.9L209.5,662.9L209.5,630.3Z"/>
<path fill="#DEB887" d="M220.5,617.7C220.7,616.4 221.6,617.7 221.8,619.0C222.0,620.2 222.0,624.0 221.8,625.2C221.6,626.5 221.0,627.7 220.8,626.5C220.6,625.2 220.4,619.0 220.5,617.7Z"/>
<path fill="#DEB887" d="M313.4,476.9C314.5,477.3 315.9,480.5 317.4,482.5C318.9,484.5 321.0,486.9 322.4,488.8C323.9,490.7 326.2,492.1 326.2,493.8C326.2,495.5 323.7,497.4 322.4,498.8C321.2,500.3 319.8,501.5 318.7,502.6C317.5,503.7 316.7,504.8 315.5,505.3C314.4,505.8 312.7,506.0 311.7,505.7C310.8,505.3 310.4,504.1 309.9,503.1C309.3,502.2 309.1,501.7 308.6,500.1C308.1,498.5 306.8,495.9 306.7,493.8C306.6,491.7 307.4,489.8 308.0,487.5C308.6,485.2 309.6,481.8 310.5,480.0C311.4,478.2 312.2,476.4 313.4,476.9Z"/>
<path fill="#DEB887" d="M382.0,485.0C382.7,484.6 383.8,488.5 384.5,490.1C385.2,491.6 385.9,492.8 386.1,494.4C386.3,496.1 386.0,498.7 385.7,500.1C385.5,501.5 385.0,502.7 384.5,502.9C384.0,503.1 383.2,502.4 382.6,501.4C382.0,500.3 381.1,497.8 380.7,496.3C380.3,494.9 379.9,494.4 380.1,492.6C380.3,490.7 381.2,485.4 382.0,485.0Z"/>
<path fill="#DEB887" d="M442.9,506.9L438.2,506.9C437.7,507.5 435.8,509.6 434.7,510.7C433.6,511.8 432.6,513.4 431.6,513.6C430.5,513.8 429.5,512.5 428.4,511.9C427.4,511.3 426.2,510.9 425.3,510.0C424.4,509.2 423.5,508.1 422.8,506.9C422.1,505.8 421.7,504.0 420.9,503.1C420.1,502.3 418.7,501.7 417.8,501.9C416.8,502.1 416.0,503.0 415.3,504.4C414.5,505.8 414.0,507.8 413.4,510.0C412.7,512.2 412.2,515.1 411.5,517.6C410.8,520.1 409.8,522.8 409.0,525.1C408.1,527.4 407.4,529.4 406.5,531.4C405.5,533.4 404.4,536.2 403.3,537.0C402.3,537.9 401.0,537.2 400.2,536.4C399.4,535.7 398.7,533.9 398.3,532.7C397.9,531.4 397.8,529.9 397.7,528.9C397.6,527.8 398.0,527.4 397.7,526.4C397.4,525.3 396.6,524.1 395.8,522.6C395.0,521.1 393.6,517.8 392.7,517.6C391.7,517.4 390.8,520.1 390.1,521.4C389.5,522.6 388.8,523.9 388.9,525.1C389.0,526.4 390.0,527.9 390.8,528.9C391.5,529.9 392.4,530.8 393.3,531.1C394.1,531.5 395.1,530.3 395.8,530.8C396.5,531.2 397.0,532.1 397.7,533.9C398.3,535.7 399.1,538.7 399.6,541.4C400.0,544.2 399.8,547.3 400.2,550.2C400.6,553.2 401.3,556.5 402.1,559.0C402.8,561.5 403.7,563.4 404.6,565.3C405.4,567.2 406.5,568.7 407.1,570.3C407.7,572.0 407.9,573.3 408.4,575.4C408.8,577.4 409.2,579.9 409.6,582.5C410.0,585.2 410.5,588.4 410.9,591.3C411.2,594.3 411.3,597.0 411.5,600.1C411.7,603.3 411.9,607.0 412.1,610.2C412.3,613.3 412.4,616.0 412.7,619.0C413.1,621.9 413.6,625.0 414.0,627.7C414.4,630.5 414.9,633.0 415.3,635.3C415.6,637.6 416.1,639.6 416.3,641.6C416.5,643.6 414.7,646.3 416.5,647.2C418.3,648.2 425.5,649.2 427.2,647.2C428.9,645.2 426.8,638.5 426.6,635.3C426.4,632.0 426.1,630.5 425.9,627.7C425.7,625.0 425.3,621.7 425.3,619.0C425.3,616.2 425.5,613.9 425.9,611.4C426.4,608.9 427.1,606.2 427.8,603.9C428.6,601.6 429.6,599.9 430.3,597.6C431.1,595.3 431.6,592.6 432.2,590.1C432.8,587.6 433.6,585.0 434.1,582.5C434.6,580.0 434.9,576.3 435.1,575.0L442.9,575.0L442.9,506.9Z"/>
<path fill="#DEB887" d="M317.4,581.0C318.2,581.2 319.7,583.0 320.5,583.8C321.4,584.6 322.7,586.1 323.7,586.9C324.7,587.7 327.9,589.1 328.1,589.8C328.2,590.6 325.7,591.5 324.9,592.6C324.2,593.6 323.0,595.9 322.4,597.6C321.8,599.3 320.9,603.1 320.5,605.1C320.2,607.2 320.0,611.3 319.7,612.7C319.3,614.1 318.5,615.6 318.0,615.8C317.6,616.0 316.5,614.9 316.1,613.9C315.8,613.0 315.3,610.1 315.1,608.9C314.9,607.7 314.8,605.0 314.6,605.1C314.5,605.3 314.1,608.5 313.9,610.2C313.7,611.8 313.4,615.9 313.0,617.7C312.6,619.5 311.9,622.6 311.1,624.0C310.4,625.3 308.5,627.0 307.4,627.7C306.2,628.5 303.7,629.1 302.3,629.3C301.0,629.4 298.6,629.5 297.3,629.0C296.0,628.6 294.0,627.0 292.9,625.9C291.8,624.7 289.9,621.8 289.1,620.2C288.4,618.6 287.2,615.4 287.3,613.9C287.3,612.4 288.9,610.2 289.8,608.9C290.6,607.6 292.4,605.2 293.5,603.9C294.7,602.5 297.2,600.1 298.6,598.9C299.9,597.6 302.3,595.4 303.6,594.5C304.8,593.5 307.0,592.4 308.0,592.0C309.0,591.5 310.4,592.0 311.1,591.3C311.8,590.7 312.5,588.1 313.0,586.9C313.5,585.8 314.3,583.3 314.9,582.5C315.5,581.7 316.6,580.9 317.4,581.0Z"/>
<path fill="#DEB887" d="M335.2,593.2C335.6,593.4 336.4,597.7 336.9,600.1C337.3,602.5 337.6,605.6 337.7,607.7C337.8,609.7 337.8,611.2 337.5,612.7C337.1,614.1 336.2,616.4 335.6,616.4C335.0,616.4 334.3,614.6 334.0,612.7C333.7,610.8 333.7,607.4 333.7,605.1C333.8,602.8 334.1,600.9 334.4,598.9C334.6,596.9 334.8,593.0 335.2,593.2Z"/>
<path fill="#DEB887" d="M342.5,600.1C343.2,600.4 344.4,603.3 345.0,605.1C345.7,607.0 346.3,609.5 346.3,611.4C346.3,613.3 345.7,614.9 345.0,616.4C344.4,618.0 343.2,621.0 342.5,620.8C341.8,620.6 341.1,617.4 340.6,615.2C340.2,613.0 339.8,609.6 339.8,607.7C339.8,605.7 340.2,604.5 340.6,603.3C341.1,602.0 341.8,599.8 342.5,600.1Z"/>
<path fill="#FFE100" d="M209.5,517.0L214.8,516.3C215.2,516.0 217.1,514.5 218.3,514.1C219.5,513.6 222.4,512.8 223.9,512.9C225.4,513.0 228.3,514.4 229.6,514.8C230.8,515.3 232.6,515.7 233.4,516.3C234.1,517.0 234.7,520.0 235.2,519.8C235.7,519.7 236.6,516.5 237.1,515.1C237.6,513.6 238.4,510.3 239.0,508.8C239.6,507.3 241.0,504.5 241.5,503.8C242.0,503.0 242.5,502.6 242.8,503.1C243.0,503.6 243.3,505.8 243.4,507.5C243.4,509.3 243.3,514.1 243.1,516.3C243.0,518.5 242.5,522.4 242.1,523.9C241.8,525.3 241.0,526.5 240.3,527.0C239.5,527.5 237.4,526.8 236.5,527.4C235.6,528.0 234.1,530.0 233.4,531.4C232.6,532.8 231.4,535.8 230.8,537.7C230.3,539.5 229.5,543.2 229.0,545.2C228.5,547.2 227.6,550.7 227.1,552.7C226.6,554.8 225.8,558.4 225.2,560.3C224.6,562.1 223.4,565.0 222.7,566.6C221.9,568.2 220.3,571.2 219.5,572.2C218.8,573.3 217.7,574.4 217.0,574.3C216.4,574.3 215.1,572.0 214.8,571.6L209.5,570.3L209.5,517.0Z"/>
<path fill="#FFE100" d="M209.5,640.3L214.8,640.3C215.2,640.4 216.6,640.4 217.7,640.9C218.7,641.5 220.0,642.6 220.8,643.4C221.6,644.3 222.3,645.0 222.3,646.0C222.3,646.9 221.5,648.2 220.8,649.1C220.1,650.0 219.3,651.0 218.3,651.6C217.3,652.2 215.3,652.7 214.8,652.9L209.5,652.9L209.5,640.3Z"/>
<path fill="#FFE100" d="M417.8,525.1C418.6,525.2 419.2,527.7 420.3,528.9C421.3,530.0 422.7,531.4 424.1,532.0C425.4,532.7 427.2,532.1 428.4,532.7C429.7,533.2 430.4,535.0 431.6,535.2C432.7,535.4 434.2,534.3 435.4,533.9C436.5,533.5 437.8,533.1 438.2,532.9L442.9,532.7L442.9,575.4L435.1,575.4C435.1,575.1 435.6,573.7 435.1,574.1C434.6,574.5 433.3,577.3 432.2,577.9C431.1,578.4 429.6,577.0 428.4,577.2C427.3,577.4 426.5,578.9 425.3,579.1C424.2,579.3 422.8,579.1 421.5,578.5C420.3,577.9 419.0,575.6 417.8,575.4C416.5,575.1 414.9,578.1 414.0,577.2C413.1,576.4 412.6,573.2 412.1,570.3C411.6,567.5 411.1,563.2 410.9,560.3C410.6,557.4 410.5,555.7 410.6,552.7C410.7,549.8 411.1,545.8 411.5,542.7C411.8,539.6 412.1,536.3 412.7,533.9C413.4,531.5 414.4,529.7 415.3,528.3C416.1,526.8 416.9,525.0 417.8,525.1Z"/>
<path fill="#FFE100" d="M412.7,572.5C409.3,572.9 412.3,574.2 412.7,575.0C413.2,575.8 414.3,576.8 415.3,577.5C416.2,578.2 417.5,578.7 418.4,579.4C419.3,580.1 420.1,582.0 420.9,581.9C421.7,581.8 422.7,579.2 423.4,578.8C424.2,578.3 424.6,579.0 425.3,579.4C426.0,579.8 427.0,581.5 427.8,581.3C428.7,581.1 429.4,579.2 430.3,578.1C431.3,577.1 432.9,575.9 433.5,575.0C434.0,574.1 436.9,572.9 433.5,572.5C430.0,572.1 416.2,572.1 412.7,572.5Z"/>
<path fill="#FFE100" d="M306.7,602.9C307.6,603.0 308.1,603.7 308.6,605.1C309.1,606.6 309.8,609.3 309.9,611.4C310.0,613.5 309.7,616.0 309.2,617.7C308.8,619.4 308.3,621.0 307.4,621.7C306.4,622.4 304.9,622.3 303.6,621.7C302.2,621.2 300.4,619.6 299.2,618.3C297.9,617.0 296.2,615.1 296.0,613.9C295.9,612.8 297.7,612.5 298.6,611.4C299.4,610.4 300.2,608.8 301.1,607.7C301.9,606.5 302.6,605.3 303.6,604.5C304.5,603.7 305.9,602.8 306.7,602.9Z"/>
<path fill="#FFE100" d="M420.9,614.9C421.6,614.9 422.7,616.4 423.4,617.7C424.2,619.0 424.8,620.6 425.3,622.7C425.8,624.8 426.2,626.1 426.6,630.3C426.9,634.4 428.9,644.9 427.2,647.8C425.5,650.8 418.3,649.1 416.5,647.8C414.7,646.6 416.4,643.2 416.5,640.3C416.6,637.4 416.9,633.2 417.1,630.3C417.4,627.3 417.5,624.8 417.8,622.7C418.1,620.6 418.5,619.0 419.0,617.7C419.5,616.4 420.2,614.9 420.9,614.9Z"/>
<path fill="#FFA500" d="M420.7,621.5C421.2,620.8 422.2,622.7 422.8,624.0C423.4,625.2 423.9,627.1 424.3,629.0C424.7,630.9 425.1,632.1 425.3,635.3C425.5,638.4 426.4,645.7 425.6,647.8C424.7,649.9 421.2,649.9 420.3,647.8C419.4,645.7 420.1,638.6 420.0,635.3C419.9,631.9 419.5,630.0 419.7,627.7C419.8,625.4 420.1,622.1 420.7,621.5Z"/>
<path fill="#FF4500" d="M423.8,630.3C424.3,629.8 425.0,632.4 425.3,635.3C425.7,638.2 426.5,645.7 425.9,647.8C425.4,649.9 422.7,649.5 422.2,647.8C421.6,646.2 422.3,640.7 422.5,637.8C422.8,634.9 423.3,630.7 423.8,630.3Z"/>
<path fill="#B22222" d="M423.9,632.8C424.2,632.4 424.7,634.0 424.9,636.5C425.2,639.1 425.7,646.0 425.3,647.8C425.0,649.7 423.2,649.3 422.8,647.8C422.4,646.4 422.9,641.6 423.0,639.1C423.2,636.5 423.6,633.2 423.9,632.8Z"/>
<path fill="#FF1493" d="M424.2,636.5C424.4,636.5 424.7,638.4 424.8,640.3C424.9,642.2 425.1,646.6 424.9,647.8C424.7,649.1 423.8,649.1 423.5,647.8C423.3,646.6 423.6,642.2 423.7,640.3C423.8,638.4 424.0,636.5 424.2,636.5Z"/>
<path fill="#FFFFFF" d="M424.3,639.1C424.4,639.1 424.5,641.4 424.6,642.8C424.6,644.3 424.6,647.0 424.6,647.8C424.5,648.7 424.1,648.7 424.1,647.8C424.0,647.0 424.0,644.3 424.1,642.8C424.1,641.4 424.2,639.1 424.3,639.1Z"/>
<path fill="#F5E4BC" d="M254.7,655.4C253.0,654.5 254.9,650.3 255.3,649.1C255.7,647.9 256.9,647.0 257.8,646.6C258.8,646.2 261.1,646.0 262.2,646.3C263.3,646.7 265.2,647.9 266.0,649.1C266.8,650.3 269.4,654.5 267.9,655.4C266.4,656.2 256.4,656.2 254.7,655.4Z"/>
<path fill="#94BA32" d="M255.7,655.4C254.4,654.6 255.9,650.7 256.2,649.7C256.5,648.7 257.4,648.1 258.2,647.8C259.0,647.6 261.1,647.3 262.0,647.6C262.9,647.9 264.2,648.8 264.7,649.9C265.3,650.9 267.5,654.6 266.3,655.4C265.0,656.1 257.0,656.1 255.7,655.4Z"/>
<path fill="#F5E4BC" d="M256.2,655.4C255.2,654.7 256.5,651.2 256.8,650.4C257.2,649.5 258.1,649.0 258.7,648.8C259.3,648.6 260.6,648.6 261.2,648.8C261.8,649.1 262.9,650.0 263.2,650.9C263.6,651.7 265.1,654.8 264.1,655.4C263.2,656.0 257.2,656.0 256.2,655.4Z"/>
<path fill="#FFE100" d="M256.2,655.4C255.6,654.7 256.7,651.3 257.2,650.6C257.7,649.9 259.1,649.2 259.7,649.9C260.3,650.5 262.1,654.6 261.6,655.4C261.1,656.1 256.8,656.0 256.2,655.4Z"/>
<path fill="#FFA500" d="M257.5,655.4C257.1,655.0 257.9,652.7 258.2,652.2C258.5,651.7 259.4,651.2 259.7,651.6C260.1,652.0 261.0,654.9 260.7,655.4C260.4,655.9 257.8,655.8 257.5,655.4Z"/>
<rect x="249.7" y="648.0" width="4.3" height="7.0" fill="#B0E0E6"/>
<rect x="251.5" y="650.5" width="2.0" height="4.5" fill="#789BF2"/>
<rect x="435.2" y="558.2" width="4.8" height="32.3" fill="#FFFFFF"/>
<rect x="431.6" y="590.2" width="8.4" height="40.4" fill="#FFFFFF"/>
<rect x="428.4" y="630.4" width="11.6" height="16.1" fill="#FFFFFF"/>
<rect x="385.2" y="646.3" width="54.8" height="9.7" fill="#FFFFFF"/>
<rect x="235.9" y="646.3" width="13.8" height="9.7" fill="#FFFFFF"/>
</g>
<rect x="214.8" y="430.0" width="223.4" height="224.0" fill="none" stroke="#000" stroke-width="1.15"/>
<path d="M250.3,430.0v-6.4M250.3,654.0v6.4M288.4,430.0v-6.4M288.4,654.0v6.4M326.5,430.0v-6.4M326.5,654.0v6.4M364.6,430.0v-6.4M364.6,654.0v6.4M402.7,430.0v-6.4M402.7,654.0v6.4M214.8,430.0h-6.4M214.8,462.0h-6.4M214.8,494.0h-6.4M214.8,558.0h-6.4M214.8,606.0h-6.4M214.8,654.0h-6.4M438.2,448.1h6.4M438.2,531.5h6.4" stroke="#000" stroke-width="1.15" fill="none"/>
<path d="M224.9,430.0v-3.3M224.9,654.0v3.3M237.6,430.0v-3.3M237.6,654.0v3.3M263.0,430.0v-3.3M263.0,654.0v3.3M275.7,430.0v-3.3M275.7,654.0v3.3M301.1,430.0v-3.3M301.1,654.0v3.3M313.8,430.0v-3.3M313.8,654.0v3.3M339.2,430.0v-3.3M339.2,654.0v3.3M351.9,430.0v-3.3M351.9,654.0v3.3M377.3,430.0v-3.3M377.3,654.0v3.3M390.0,430.0v-3.3M390.0,654.0v3.3M415.4,430.0v-3.3M415.4,654.0v3.3M428.1,430.0v-3.3M428.1,654.0v3.3" stroke="#333" stroke-width="0.7" fill="none"/>
<text class="tk" x="186.8" y="433.4" textLength="16.6" lengthAdjust="spacingAndGlyphs">300</text>
<text class="tk" x="186.8" y="465.4" textLength="16.6" lengthAdjust="spacingAndGlyphs">400</text>
<text class="tk" x="186.8" y="497.4" textLength="16.6" lengthAdjust="spacingAndGlyphs">500</text>
<text class="tk" x="186.8" y="561.4" textLength="16.6" lengthAdjust="spacingAndGlyphs">700</text>
<text class="tk" x="186.8" y="609.4" textLength="16.6" lengthAdjust="spacingAndGlyphs">850</text>
<text class="tk" x="181.3" y="657.4" textLength="22.2" lengthAdjust="spacingAndGlyphs">1000</text>
<text class="tk" x="241.8" y="672.5" textLength="17.6" lengthAdjust="spacingAndGlyphs">60N</text>
<text class="tk" x="279.9" y="672.5" textLength="17.6" lengthAdjust="spacingAndGlyphs">30N</text>
<text class="tk" x="323.9" y="672.5" textLength="5.9" lengthAdjust="spacingAndGlyphs">0</text>
<text class="tk" x="356.1" y="672.5" textLength="17.6" lengthAdjust="spacingAndGlyphs">30S</text>
<text class="tk" x="394.2" y="672.5" textLength="17.6" lengthAdjust="spacingAndGlyphs">60S</text>
<text class="tk" x="449.8" y="451.5" textLength="5.3" lengthAdjust="spacingAndGlyphs">8</text>
<text class="tk" x="449.8" y="534.9" textLength="5.3" lengthAdjust="spacingAndGlyphs">4</text>
<text class="sf" font-size="16" transform="translate(173.4,542.0) rotate(-90)" text-anchor="middle" textLength="110.5" lengthAdjust="spacing">Pressure (mb)</text>
<text class="sf" font-size="16" transform="translate(473.3,542.5) rotate(-90)" text-anchor="middle" textLength="93" lengthAdjust="spacing">Height (km)</text>
<text class="sf" font-size="14" x="214.2" y="419.7" textLength="114.3" lengthAdjust="spacing">Cloud ice+liquid</text>
<text class="sf" font-size="14" x="407.2" y="419.7" textLength="33.6" lengthAdjust="spacing">g/kg</text>
<text class="sf" font-size="14.2" x="167.0" y="41" text-anchor="middle" textLength="191.5" lengthAdjust="spacing">b01.01ibis (yrs 990−999)</text>
<text class="sf" font-size="14.2" x="488.0" y="41" text-anchor="middle" textLength="174" lengthAdjust="spacing">b30.004 (yrs 990−999)</text>
<text class="sf" font-size="14.2" x="327.5" y="400" text-anchor="middle" textLength="161" lengthAdjust="spacing">b01.01ibis − b30.004</text>
<text class="sf" font-size="12.5" x="81.9" y="325.5" textLength="19.8" lengthAdjust="spacingAndGlyphs">MIN</text>
<text class="sf" font-size="11" x="109.7" y="325.5" textLength="7.2" lengthAdjust="spacingAndGlyphs">=</text>
<text class="nm" x="158.9" y="325.5" text-anchor="end" textLength="23.3" lengthAdjust="spacingAndGlyphs">0.00</text>
<text class="sf" font-size="12.5" x="171.4" y="325.5" textLength="21.8" lengthAdjust="spacingAndGlyphs">MAX</text>
<text class="sf" font-size="11" x="200.4" y="325.5" textLength="7.2" lengthAdjust="spacingAndGlyphs">=</text>
<text class="nm" x="250.5" y="325.5" text-anchor="end" textLength="23.3" lengthAdjust="spacingAndGlyphs">0.13</text>
<text class="sf" font-size="12.5" x="402.9" y="325.5" textLength="19.8" lengthAdjust="spacingAndGlyphs">MIN</text>
<text class="sf" font-size="11" x="430.7" y="325.5" textLength="7.2" lengthAdjust="spacingAndGlyphs">=</text>
<text class="nm" x="479.9" y="325.5" text-anchor="end" textLength="23.3" lengthAdjust="spacingAndGlyphs">0.00</text>
<text class="sf" font-size="12.5" x="492.4" y="325.5" textLength="21.8" lengthAdjust="spacingAndGlyphs">MAX</text>
<text class="sf" font-size="11" x="521.4" y="325.5" textLength="7.2" lengthAdjust="spacingAndGlyphs">=</text>
<text class="nm" x="571.5" y="325.5" text-anchor="end" textLength="23.3" lengthAdjust="spacingAndGlyphs">0.08</text>
<rect x="57.10" y="336.1" width="13.59" height="20.3" fill="#9370DB" stroke="#222" stroke-width="0.7"/>
<rect x="70.69" y="336.1" width="13.59" height="20.3" fill="#0000C8" stroke="#222" stroke-width="0.7"/>
<rect x="84.28" y="336.1" width="13.59" height="20.3" fill="#3C64E6" stroke="#222" stroke-width="0.7"/>
<rect x="97.87" y="336.1" width="13.59" height="20.3" fill="#789BF2" stroke="#222" stroke-width="0.7"/>
<rect x="111.46" y="336.1" width="13.59" height="20.3" fill="#B0E0E6" stroke="#222" stroke-width="0.7"/>
<rect x="125.05" y="336.1" width="13.59" height="20.3" fill="#20B2AA" stroke="#222" stroke-width="0.7"/>
<rect x="138.64" y="336.1" width="13.59" height="20.3" fill="#BCEE68" stroke="#222" stroke-width="0.7"/>
<rect x="152.23" y="336.1" width="13.59" height="20.3" fill="#94BA32" stroke="#222" stroke-width="0.7"/>
<rect x="165.82" y="336.1" width="13.59" height="20.3" fill="#F5E4BC" stroke="#222" stroke-width="0.7"/>
<rect x="179.41" y="336.1" width="13.59" height="20.3" fill="#DEB887" stroke="#222" stroke-width="0.7"/>
<rect x="193.00" y="336.1" width="13.59" height="20.3" fill="#FFE100" stroke="#222" stroke-width="0.7"/>
<rect x="206.59" y="336.1" width="13.59" height="20.3" fill="#FFA500" stroke="#222" stroke-width="0.7"/>
<rect x="220.18" y="336.1" width="13.59" height="20.3" fill="#FF4500" stroke="#222" stroke-width="0.7"/>
<rect x="233.77" y="336.1" width="13.59" height="20.3" fill="#B22222" stroke="#222" stroke-width="0.7"/>
<rect x="247.36" y="336.1" width="13.59" height="20.3" fill="#FFB6C1" stroke="#222" stroke-width="0.7"/>
<rect x="260.95" y="336.1" width="13.59" height="20.3" fill="#FF1493" stroke="#222" stroke-width="0.7"/>
<text class="cb" x="60.3" y="370.3" textLength="20.7" lengthAdjust="spacingAndGlyphs">0.01</text>
<text class="cb" x="87.5" y="370.3" textLength="20.7" lengthAdjust="spacingAndGlyphs">0.02</text>
<text class="cb" x="114.7" y="370.3" textLength="20.7" lengthAdjust="spacingAndGlyphs">0.03</text>
<text class="cb" x="141.9" y="370.3" textLength="20.7" lengthAdjust="spacingAndGlyphs">0.04</text>
<text class="cb" x="169.1" y="370.3" textLength="20.7" lengthAdjust="spacingAndGlyphs">0.06</text>
<text class="cb" x="196.2" y="370.3" textLength="20.7" lengthAdjust="spacingAndGlyphs">0.08</text>
<text class="cb" x="226.4" y="370.3" textLength="14.8" lengthAdjust="spacingAndGlyphs">0.1</text>
<text class="cb" x="250.6" y="370.3" textLength="20.7" lengthAdjust="spacingAndGlyphs">0.12</text>
<rect x="377.60" y="336.1" width="13.59" height="20.3" fill="#9370DB" stroke="#222" stroke-width="0.7"/>
<rect x="391.19" y="336.1" width="13.59" height="20.3" fill="#0000C8" stroke="#222" stroke-width="0.7"/>
<rect x="404.78" y="336.1" width="13.59" height="20.3" fill="#3C64E6" stroke="#222" stroke-width="0.7"/>
<rect x="418.37" y="336.1" width="13.59" height="20.3" fill="#789BF2" stroke="#222" stroke-width="0.7"/>
<rect x="431.96" y="336.1" width="13.59" height="20.3" fill="#B0E0E6" stroke="#222" stroke-width="0.7"/>
<rect x="445.55" y="336.1" width="13.59" height="20.3" fill="#20B2AA" stroke="#222" stroke-width="0.7"/>
<rect x="459.14" y="336.1" width="13.59" height="20.3" fill="#BCEE68" stroke="#222" stroke-width="0.7"/>
<rect x="472.73" y="336.1" width="13.59" height="20.3" fill="#94BA32" stroke="#222" stroke-width="0.7"/>
<rect x="486.32" y="336.1" width="13.59" height="20.3" fill="#F5E4BC" stroke="#222" stroke-width="0.7"/>
<rect x="499.91" y="336.1" width="13.59" height="20.3" fill="#DEB887" stroke="#222" stroke-width="0.7"/>
<rect x="513.50" y="336.1" width="13.59" height="20.3" fill="#FFE100" stroke="#222" stroke-width="0.7"/>
<rect x="527.09" y="336.1" width="13.59" height="20.3" fill="#FFA500" stroke="#222" stroke-width="0.7"/>
<rect x="540.68" y="336.1" width="13.59" height="20.3" fill="#FF4500" stroke="#222" stroke-width="0.7"/>
<rect x="554.27" y="336.1" width="13.59" height="20.3" fill="#B22222" stroke="#222" stroke-width="0.7"/>
<rect x="567.86" y="336.1" width="13.59" height="20.3" fill="#FFB6C1" stroke="#222" stroke-width="0.7"/>
<rect x="581.45" y="336.1" width="13.59" height="20.3" fill="#FF1493" stroke="#222" stroke-width="0.7"/>
<text class="cb" x="380.8" y="370.3" textLength="20.7" lengthAdjust="spacingAndGlyphs">0.01</text>
<text class="cb" x="408.0" y="370.3" textLength="20.7" lengthAdjust="spacingAndGlyphs">0.02</text>
<text class="cb" x="435.2" y="370.3" textLength="20.7" lengthAdjust="spacingAndGlyphs">0.03</text>
<text class="cb" x="462.4" y="370.3" textLength="20.7" lengthAdjust="spacingAndGlyphs">0.04</text>
<text class="cb" x="489.6" y="370.3" textLength="20.7" lengthAdjust="spacingAndGlyphs">0.06</text>
<text class="cb" x="516.7" y="370.3" textLength="20.7" lengthAdjust="spacingAndGlyphs">0.08</text>
<text class="cb" x="546.9" y="370.3" textLength="14.8" lengthAdjust="spacingAndGlyphs">0.1</text>
<text class="cb" x="571.1" y="370.3" textLength="20.7" lengthAdjust="spacingAndGlyphs">0.12</text>
<rect x="514.5" y="471.40" width="31.0" height="11.25" fill="#FF1493" stroke="#222" stroke-width="0.7"/>
<rect x="514.5" y="482.65" width="31.0" height="11.25" fill="#FFB6C1" stroke="#222" stroke-width="0.7"/>
<rect x="514.5" y="493.90" width="31.0" height="11.25" fill="#B22222" stroke="#222" stroke-width="0.7"/>
<rect x="514.5" y="505.15" width="31.0" height="11.25" fill="#FF4500" stroke="#222" stroke-width="0.7"/>
<rect x="514.5" y="516.40" width="31.0" height="11.25" fill="#FFA500" stroke="#222" stroke-width="0.7"/>
<rect x="514.5" y="527.65" width="31.0" height="11.25" fill="#FFE100" stroke="#222" stroke-width="0.7"/>
<rect x="514.5" y="538.90" width="31.0" height="11.25" fill="#DEB887" stroke="#222" stroke-width="0.7"/>
<rect x="514.5" y="550.15" width="31.0" height="11.25" fill="#F5E4BC" stroke="#222" stroke-width="0.7"/>
<rect x="514.5" y="561.40" width="31.0" height="11.25" fill="#94BA32" stroke="#222" stroke-width="0.7"/>
<rect x="514.5" y="572.65" width="31.0" height="11.25" fill="#BCEE68" stroke="#222" stroke-width="0.7"/>
<rect x="514.5" y="583.90" width="31.0" height="11.25" fill="#20B2AA" stroke="#222" stroke-width="0.7"/>
<rect x="514.5" y="595.15" width="31.0" height="11.25" fill="#B0E0E6" stroke="#222" stroke-width="0.7"/>
<rect x="514.5" y="606.40" width="31.0" height="11.25" fill="#789BF2" stroke="#222" stroke-width="0.7"/>
<rect x="514.5" y="617.65" width="31.0" height="11.25" fill="#3C64E6" stroke="#222" stroke-width="0.7"/>
<rect x="514.5" y="628.90" width="31.0" height="11.25" fill="#0000C8" stroke="#222" stroke-width="0.7"/>
<rect x="514.5" y="640.15" width="31.0" height="11.25" fill="#9370DB" stroke="#222" stroke-width="0.7"/>
<text class="cb" style="font-size:10.2px" x="567.0" y="486.9" text-anchor="middle" textLength="21.7" lengthAdjust="spacingAndGlyphs">0.06</text>
<text class="cb" style="font-size:10.2px" x="567.0" y="498.2" text-anchor="middle" textLength="21.7" lengthAdjust="spacingAndGlyphs">0.05</text>
<text class="cb" style="font-size:10.2px" x="567.0" y="509.4" text-anchor="middle" textLength="21.7" lengthAdjust="spacingAndGlyphs">0.04</text>
<text class="cb" style="font-size:10.2px" x="567.0" y="520.7" text-anchor="middle" textLength="21.7" lengthAdjust="spacingAndGlyphs">0.03</text>
<text class="cb" style="font-size:10.2px" x="567.0" y="531.9" text-anchor="middle" textLength="21.7" lengthAdjust="spacingAndGlyphs">0.02</text>
<text class="cb" style="font-size:10.2px" x="567.0" y="543.2" text-anchor="middle" textLength="21.7" lengthAdjust="spacingAndGlyphs">0.01</text>
<text class="cb" style="font-size:10.2px" x="567.0" y="554.4" text-anchor="middle" textLength="28.4" lengthAdjust="spacingAndGlyphs">0.005</text>
<text class="cb" style="font-size:10.2px" x="567.0" y="565.7" text-anchor="middle" textLength="6.0" lengthAdjust="spacingAndGlyphs">0</text>
<text class="cb" style="font-size:10.2px" x="567.0" y="576.9" text-anchor="middle" textLength="35.7" lengthAdjust="spacingAndGlyphs">−0.005</text>
<text class="cb" style="font-size:10.2px" x="567.0" y="588.2" text-anchor="middle" textLength="29.0" lengthAdjust="spacingAndGlyphs">−0.01</text>
<text class="cb" style="font-size:10.2px" x="567.0" y="599.4" text-anchor="middle" textLength="29.0" lengthAdjust="spacingAndGlyphs">−0.02</text>
<text class="cb" style="font-size:10.2px" x="567.0" y="610.7" text-anchor="middle" textLength="29.0" lengthAdjust="spacingAndGlyphs">−0.03</text>
<text class="cb" style="font-size:10.2px" x="567.0" y="621.9" text-anchor="middle" textLength="29.0" lengthAdjust="spacingAndGlyphs">−0.04</text>
<text class="cb" style="font-size:10.2px" x="567.0" y="633.2" text-anchor="middle" textLength="29.0" lengthAdjust="spacingAndGlyphs">−0.05</text>
<text class="cb" style="font-size:10.2px" x="567.0" y="644.4" text-anchor="middle" textLength="29.0" lengthAdjust="spacingAndGlyphs">−0.06</text>
<text class="sf" font-size="12.5" x="463.8" y="452.6" textLength="19.8" lengthAdjust="spacingAndGlyphs">MIN</text>
<rect x="491" y="446.6" width="7.1" height="1.3" fill="#aaa"/><rect x="491" y="449.4" width="7.1" height="1.3" fill="#aaa"/>
<text class="nm" x="544.2" y="452.6" text-anchor="end" textLength="32.5" lengthAdjust="spacingAndGlyphs">−0.04</text>
<text class="sf" font-size="12.5" x="556.6" y="452.6" textLength="22.6" lengthAdjust="spacingAndGlyphs">MAX</text>
<rect x="586" y="446.6" width="7.1" height="1.3" fill="#aaa"/><rect x="586" y="449.4" width="7.1" height="1.3" fill="#aaa"/>
<text class="nm" x="635.5" y="452.6" text-anchor="end" textLength="23.9" lengthAdjust="spacingAndGlyphs">0.07</text>
</svg></body></html>
